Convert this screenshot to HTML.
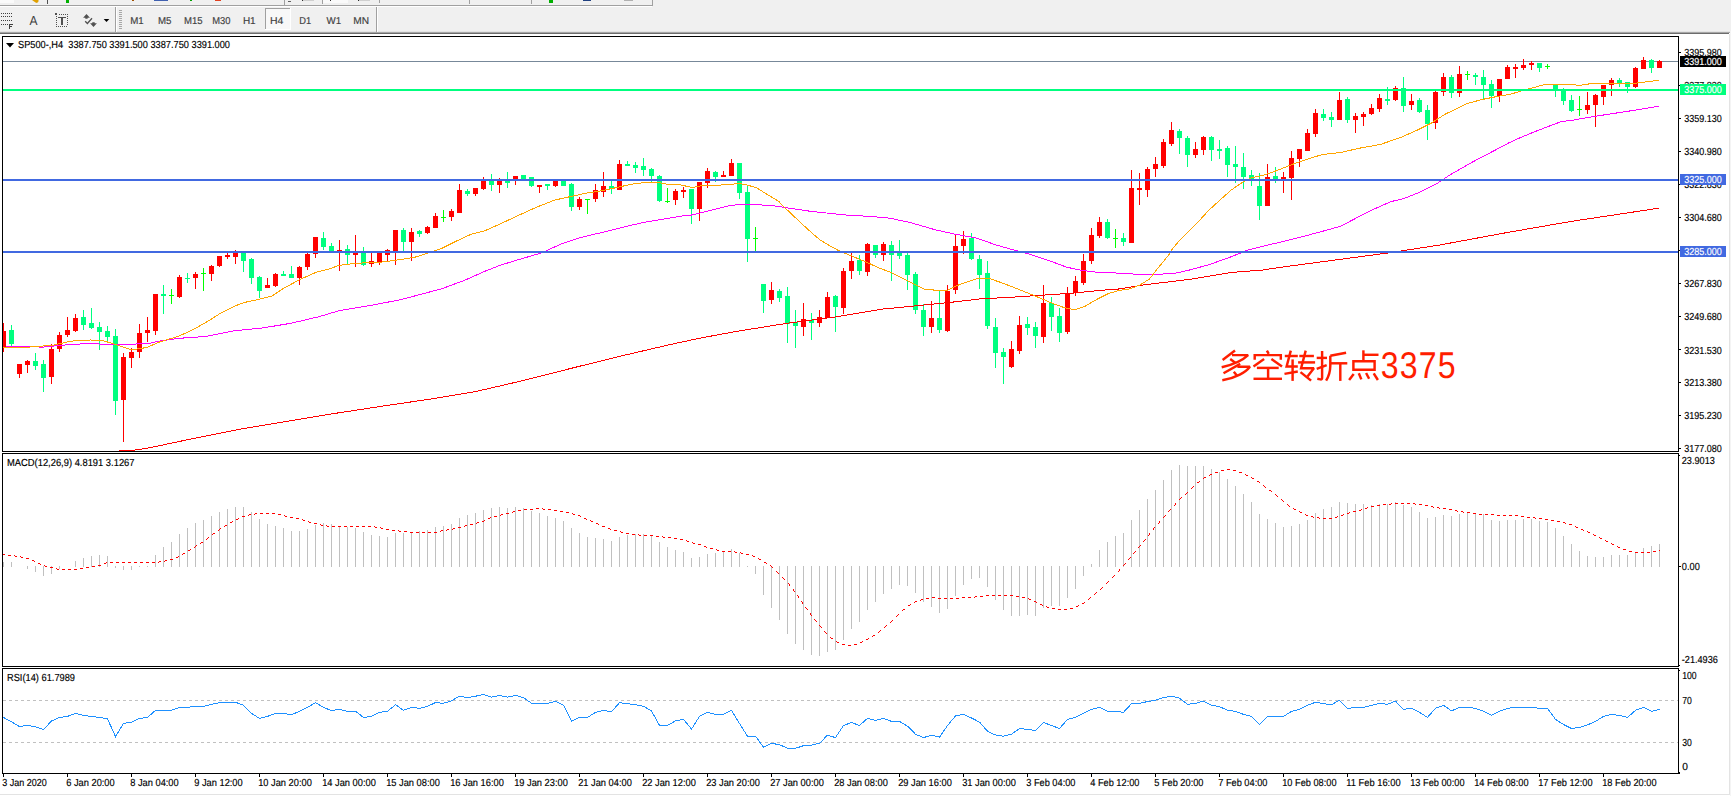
<!DOCTYPE html>
<html><head><meta charset="utf-8"><title>SP500 H4</title>
<style>
html,body{margin:0;padding:0;background:#fff;overflow:hidden}
body{width:1731px;height:796px}
svg{display:block;font-family:"Liberation Sans",sans-serif}
text{font-family:"Liberation Sans",sans-serif;text-rendering:geometricPrecision}
</style></head><body>
<svg width="1731" height="796" viewBox="0 0 1731 796">
<rect x="0" y="0" width="1731" height="796" fill="#ffffff"/>
<rect x="0" y="0" width="1731" height="31" fill="#f0f0f0"/>
<rect x="0" y="31" width="1730" height="1" fill="#e4e4e4"/>
<rect x="0" y="32" width="1730" height="1" fill="#a6a6a6"/>
<rect x="0" y="33" width="1729" height="1" fill="#6c6c6c"/>
<rect x="1730" y="31" width="1" height="765" fill="#f4f4f4"/>
<rect x="1729" y="34" width="1" height="761" fill="#e3e3e3"/>
<rect x="0" y="794" width="1730" height="1" fill="#e3e3e3"/>
<rect x="0" y="5" width="652" height="1" fill="#a0a0a0"/>
<rect x="0" y="6" width="652" height="1" fill="#ffffff"/>
<rect x="652" y="0" width="1" height="6" fill="#a0a0a0"/>
<rect x="0" y="0" width="14" height="3" fill="#fafafa"/>
<path d="M32 0 H38.5 V1.5 L37 3 L35.5 2.6 Z" fill="#e0a000"/>
<rect x="47" y="0" width="1" height="4" fill="#505050"/>
<rect x="66" y="0" width="3" height="3" fill="#00b000"/>
<rect x="132" y="0" width="2" height="1" fill="#a05000"/>
<rect x="154" y="0" width="14" height="1" fill="#4060b0"/>
<rect x="190" y="0" width="2" height="1" fill="#00a000"/>
<rect x="215" y="0" width="6" height="1" fill="#e04020"/>
<rect x="284" y="0" width="1" height="5" fill="#a0a0a0"/>
<rect x="288" y="1" width="3" height="1" fill="#606060"/>
<rect x="302" y="0" width="1" height="1" fill="#303030"/>
<rect x="303" y="0" width="11" height="1" fill="#cfcfcf"/>
<rect x="358" y="0" width="1" height="1" fill="#303030"/>
<rect x="359" y="0" width="11" height="1" fill="#cfcfcf"/>
<rect x="322" y="0" width="26" height="3" fill="#fafafa"/>
<rect x="322" y="0" width="1" height="4" fill="#a0a0a0"/>
<rect x="379" y="0" width="1" height="3" fill="#a0a0a0"/>
<rect x="330" y="0" width="1" height="1" fill="#303030"/>
<rect x="469" y="0" width="1" height="4" fill="#a0a0a0"/>
<rect x="531" y="0" width="1" height="4" fill="#a0a0a0"/>
<rect x="549" y="0" width="4" height="3" fill="#00b000"/>
<rect x="583" y="0" width="8" height="1" fill="#204080"/>
<rect x="624" y="0" width="9" height="1" fill="#b0b0b0"/>
<rect x="1" y="13" width="1" height="1" fill="#404040"/>
<rect x="3" y="13" width="1" height="1" fill="#404040"/>
<rect x="5" y="13" width="1" height="1" fill="#404040"/>
<rect x="7" y="13" width="1" height="1" fill="#404040"/>
<rect x="9" y="13" width="1" height="1" fill="#404040"/>
<rect x="11" y="13" width="1" height="1" fill="#404040"/>
<rect x="1" y="16" width="1" height="1" fill="#404040"/>
<rect x="3" y="16" width="1" height="1" fill="#404040"/>
<rect x="5" y="16" width="1" height="1" fill="#404040"/>
<rect x="7" y="16" width="1" height="1" fill="#404040"/>
<rect x="9" y="16" width="1" height="1" fill="#404040"/>
<rect x="11" y="16" width="1" height="1" fill="#404040"/>
<rect x="1" y="20" width="1" height="1" fill="#404040"/>
<rect x="3" y="20" width="1" height="1" fill="#404040"/>
<rect x="5" y="20" width="1" height="1" fill="#404040"/>
<rect x="7" y="20" width="1" height="1" fill="#404040"/>
<rect x="9" y="20" width="1" height="1" fill="#404040"/>
<rect x="11" y="20" width="1" height="1" fill="#404040"/>
<rect x="1" y="24" width="1" height="1" fill="#404040"/>
<rect x="3" y="24" width="1" height="1" fill="#404040"/>
<rect x="5" y="24" width="1" height="1" fill="#404040"/>
<rect x="7" y="24" width="1" height="1" fill="#404040"/>
<rect x="9" y="24" width="1" height="5" fill="#404040"/>
<rect x="9" y="24" width="4" height="1" fill="#404040"/>
<rect x="9" y="26" width="3" height="1" fill="#404040"/>
<text x="29.6" y="25" font-size="13" fill="#404040" textLength="8" lengthAdjust="spacingAndGlyphs">A</text>
<rect x="55" y="13" width="2" height="2" fill="#505050"/>
<rect x="59" y="14" width="1" height="1" fill="#505050"/>
<rect x="61" y="14" width="1" height="1" fill="#505050"/>
<rect x="63" y="14" width="1" height="1" fill="#505050"/>
<rect x="65" y="14" width="1" height="1" fill="#505050"/>
<rect x="67" y="14" width="1" height="1" fill="#505050"/>
<rect x="56" y="26" width="1" height="1" fill="#505050"/>
<rect x="58" y="26" width="1" height="1" fill="#505050"/>
<rect x="60" y="26" width="1" height="1" fill="#505050"/>
<rect x="62" y="26" width="1" height="1" fill="#505050"/>
<rect x="64" y="26" width="1" height="1" fill="#505050"/>
<rect x="66" y="26" width="1" height="1" fill="#505050"/>
<rect x="56" y="16" width="1" height="1" fill="#505050"/>
<rect x="56" y="18" width="1" height="1" fill="#505050"/>
<rect x="56" y="20" width="1" height="1" fill="#505050"/>
<rect x="56" y="22" width="1" height="1" fill="#505050"/>
<rect x="56" y="24" width="1" height="1" fill="#505050"/>
<rect x="67" y="16" width="1" height="1" fill="#505050"/>
<rect x="67" y="18" width="1" height="1" fill="#505050"/>
<rect x="67" y="20" width="1" height="1" fill="#505050"/>
<rect x="67" y="22" width="1" height="1" fill="#505050"/>
<rect x="67" y="24" width="1" height="1" fill="#505050"/>
<rect x="58" y="17" width="8" height="1" fill="#505050"/>
<rect x="61" y="18" width="2" height="7" fill="#505050"/>
<path d="M86.5 14 L89.9 17.8 H87.6 V18.7 H85.3 V17.8 H83.1 Z M93.5 26.9 L96.9 23.2 H94.7 V22.2 H92.3 V23.2 H90.1 Z" fill="#505050"/>
<path d="M85.2 21.2 L87.4 23.5 L92 18.2" fill="none" stroke="#505050" stroke-width="1.3"/>
<path d="M103.7 18.9 h5.6 l-2.8 3.2 z" fill="#000"/>
<rect x="115" y="7" width="1" height="25" fill="#a0a0a0"/>
<rect x="116" y="7" width="1" height="25" fill="#ffffff"/>
<rect x="119" y="10" width="3" height="1" fill="#a8a8a8"/>
<rect x="119" y="12" width="3" height="1" fill="#a8a8a8"/>
<rect x="119" y="14" width="3" height="1" fill="#a8a8a8"/>
<rect x="119" y="16" width="3" height="1" fill="#a8a8a8"/>
<rect x="119" y="18" width="3" height="1" fill="#a8a8a8"/>
<rect x="119" y="20" width="3" height="1" fill="#a8a8a8"/>
<rect x="119" y="22" width="3" height="1" fill="#a8a8a8"/>
<rect x="119" y="24" width="3" height="1" fill="#a8a8a8"/>
<rect x="119" y="26" width="3" height="1" fill="#a8a8a8"/>
<rect x="119" y="28" width="3" height="1" fill="#a8a8a8"/>
<rect x="265" y="8" width="26" height="22" fill="#f8f8f8"/>
<rect x="265" y="8" width="25" height="1" fill="#a0a0a0"/>
<rect x="265" y="8" width="1" height="22" fill="#a0a0a0"/>
<rect x="290" y="8" width="1" height="22" fill="#ffffff"/>
<rect x="265" y="29" width="26" height="1" fill="#ffffff"/>
<text x="130.2" y="24" font-size="10" fill="#404040" textLength="13.5" lengthAdjust="spacingAndGlyphs" stroke="#404040" stroke-width="0.16">M1</text>
<text x="157.9" y="24" font-size="10" fill="#404040" textLength="13.5" lengthAdjust="spacingAndGlyphs" stroke="#404040" stroke-width="0.16">M5</text>
<text x="184" y="24" font-size="10" fill="#404040" textLength="18.6" lengthAdjust="spacingAndGlyphs" stroke="#404040" stroke-width="0.16">M15</text>
<text x="212.2" y="24" font-size="10" fill="#404040" textLength="18.2" lengthAdjust="spacingAndGlyphs" stroke="#404040" stroke-width="0.16">M30</text>
<text x="242.9" y="24" font-size="10" fill="#404040" textLength="12.8" lengthAdjust="spacingAndGlyphs" stroke="#404040" stroke-width="0.16">H1</text>
<text x="270" y="24" font-size="10" fill="#404040" textLength="13.4" lengthAdjust="spacingAndGlyphs" stroke="#404040" stroke-width="0.16">H4</text>
<text x="299.3" y="24" font-size="10" fill="#404040" textLength="11.9" lengthAdjust="spacingAndGlyphs" stroke="#404040" stroke-width="0.16">D1</text>
<text x="326.6" y="24" font-size="10" fill="#404040" textLength="14.6" lengthAdjust="spacingAndGlyphs" stroke="#404040" stroke-width="0.16">W1</text>
<text x="353.2" y="24" font-size="10" fill="#404040" textLength="15.8" lengthAdjust="spacingAndGlyphs" stroke="#404040" stroke-width="0.16">MN</text>
<rect x="376" y="7" width="1" height="25" fill="#a0a0a0"/>
<rect x="377" y="7" width="1" height="25" fill="#ffffff"/>
<rect x="2" y="36" width="1677" height="1" fill="#000000"/>
<rect x="2" y="36" width="1" height="738" fill="#000000"/>
<rect x="1678" y="36" width="1" height="738" fill="#000000"/>
<rect x="2" y="451" width="1677" height="1" fill="#000000"/>
<rect x="2" y="453" width="1677" height="1" fill="#000000"/>
<rect x="2" y="666" width="1677" height="1" fill="#000000"/>
<rect x="2" y="668" width="1677" height="1" fill="#000000"/>
<rect x="2" y="773" width="1678" height="1" fill="#000000"/>
<rect x="2" y="452" width="1677" height="1" fill="#ffffff"/>
<rect x="2" y="667" width="1677" height="1" fill="#ffffff"/>
<defs><clipPath id="cm"><rect x="3" y="37" width="1675" height="414"/></clipPath></defs>
<g clip-path="url(#cm)" shape-rendering="crispEdges">
<rect x="3" y="61" width="1675" height="1" fill="#778899"/>
<rect x="3" y="323" width="1" height="29" fill="#ff0000"/>
<rect x="1" y="331" width="5" height="16" fill="#ff0000"/>
<rect x="11" y="325" width="1" height="21" fill="#00ff7f"/>
<rect x="9" y="330" width="5" height="14" fill="#00ff7f"/>
<rect x="19" y="364" width="1" height="14" fill="#ff0000"/>
<rect x="17" y="364" width="5" height="10" fill="#ff0000"/>
<rect x="27" y="360" width="1" height="13" fill="#ff0000"/>
<rect x="25" y="361" width="5" height="4" fill="#ff0000"/>
<rect x="35" y="353" width="1" height="17" fill="#00ff7f"/>
<rect x="33" y="361" width="5" height="5" fill="#00ff7f"/>
<rect x="43" y="360" width="1" height="32" fill="#00ff7f"/>
<rect x="41" y="364" width="5" height="14" fill="#00ff7f"/>
<rect x="51" y="344" width="1" height="40" fill="#ff0000"/>
<rect x="49" y="349" width="5" height="28" fill="#ff0000"/>
<rect x="59" y="332" width="1" height="20" fill="#ff0000"/>
<rect x="57" y="335" width="5" height="14" fill="#ff0000"/>
<rect x="67" y="317" width="1" height="20" fill="#ff0000"/>
<rect x="65" y="330" width="5" height="5" fill="#ff0000"/>
<rect x="75" y="314" width="1" height="18" fill="#ff0000"/>
<rect x="73" y="318" width="5" height="13" fill="#ff0000"/>
<rect x="83" y="310" width="1" height="20" fill="#00ff7f"/>
<rect x="81" y="317" width="5" height="8" fill="#00ff7f"/>
<rect x="91" y="308" width="1" height="21" fill="#00ff7f"/>
<rect x="89" y="323" width="5" height="5" fill="#00ff7f"/>
<rect x="99" y="322" width="1" height="28" fill="#00ff7f"/>
<rect x="97" y="327" width="5" height="5" fill="#00ff7f"/>
<rect x="107" y="326" width="1" height="17" fill="#00ff7f"/>
<rect x="105" y="331" width="5" height="6" fill="#00ff7f"/>
<rect x="115" y="329" width="1" height="86" fill="#00ff7f"/>
<rect x="113" y="336" width="5" height="65" fill="#00ff7f"/>
<rect x="123" y="353" width="1" height="89" fill="#ff0000"/>
<rect x="121" y="357" width="5" height="43" fill="#ff0000"/>
<rect x="131" y="348" width="1" height="20" fill="#ff0000"/>
<rect x="129" y="352" width="5" height="6" fill="#ff0000"/>
<rect x="139" y="324" width="1" height="34" fill="#ff0000"/>
<rect x="137" y="333" width="5" height="19" fill="#ff0000"/>
<rect x="147" y="317" width="1" height="25" fill="#ff0000"/>
<rect x="145" y="330" width="5" height="3" fill="#ff0000"/>
<rect x="155" y="294" width="1" height="41" fill="#ff0000"/>
<rect x="153" y="294" width="5" height="37" fill="#ff0000"/>
<rect x="163" y="285" width="1" height="29" fill="#00ff7f"/>
<rect x="161" y="294" width="5" height="2" fill="#00ff7f"/>
<rect x="171" y="289" width="1" height="15" fill="#00ff00"/>
<rect x="169" y="295" width="5" height="1" fill="#00ff00"/>
<rect x="179" y="275" width="1" height="23" fill="#ff0000"/>
<rect x="177" y="277" width="5" height="20" fill="#ff0000"/>
<rect x="187" y="273" width="1" height="10" fill="#00ff7f"/>
<rect x="185" y="278" width="5" height="1" fill="#00ff7f"/>
<rect x="195" y="272" width="1" height="17" fill="#ff0000"/>
<rect x="193" y="274" width="5" height="4" fill="#ff0000"/>
<rect x="203" y="268" width="1" height="23" fill="#00ff00"/>
<rect x="201" y="273" width="5" height="1" fill="#00ff00"/>
<rect x="211" y="265" width="1" height="16" fill="#ff0000"/>
<rect x="209" y="266" width="5" height="8" fill="#ff0000"/>
<rect x="219" y="256" width="1" height="11" fill="#ff0000"/>
<rect x="217" y="256" width="5" height="10" fill="#ff0000"/>
<rect x="227" y="253" width="1" height="6" fill="#ff0000"/>
<rect x="225" y="255" width="5" height="2" fill="#ff0000"/>
<rect x="235" y="250" width="1" height="14" fill="#ff0000"/>
<rect x="233" y="252" width="5" height="5" fill="#ff0000"/>
<rect x="243" y="252" width="1" height="20" fill="#00ff7f"/>
<rect x="241" y="252" width="5" height="9" fill="#00ff7f"/>
<rect x="251" y="258" width="1" height="26" fill="#00ff7f"/>
<rect x="249" y="259" width="5" height="19" fill="#00ff7f"/>
<rect x="259" y="276" width="1" height="22" fill="#00ff7f"/>
<rect x="257" y="277" width="5" height="14" fill="#00ff7f"/>
<rect x="267" y="278" width="1" height="10" fill="#ff0000"/>
<rect x="265" y="285" width="5" height="3" fill="#ff0000"/>
<rect x="275" y="273" width="1" height="14" fill="#ff0000"/>
<rect x="273" y="274" width="5" height="12" fill="#ff0000"/>
<rect x="283" y="271" width="1" height="5" fill="#00ff7f"/>
<rect x="281" y="274" width="5" height="2" fill="#00ff7f"/>
<rect x="291" y="266" width="1" height="12" fill="#00ff7f"/>
<rect x="289" y="274" width="5" height="4" fill="#00ff7f"/>
<rect x="299" y="266" width="1" height="19" fill="#ff0000"/>
<rect x="297" y="267" width="5" height="11" fill="#ff0000"/>
<rect x="307" y="253" width="1" height="17" fill="#ff0000"/>
<rect x="305" y="254" width="5" height="13" fill="#ff0000"/>
<rect x="315" y="237" width="1" height="21" fill="#ff0000"/>
<rect x="313" y="237" width="5" height="17" fill="#ff0000"/>
<rect x="323" y="232" width="1" height="18" fill="#00ff7f"/>
<rect x="321" y="238" width="5" height="9" fill="#00ff7f"/>
<rect x="331" y="243" width="1" height="8" fill="#00ff7f"/>
<rect x="329" y="246" width="5" height="5" fill="#00ff7f"/>
<rect x="339" y="240" width="1" height="31" fill="#ff0000"/>
<rect x="337" y="250" width="5" height="2" fill="#ff0000"/>
<rect x="347" y="245" width="1" height="19" fill="#00ff7f"/>
<rect x="345" y="249" width="5" height="6" fill="#00ff7f"/>
<rect x="355" y="235" width="1" height="32" fill="#ff0000"/>
<rect x="353" y="252" width="5" height="3" fill="#ff0000"/>
<rect x="363" y="247" width="1" height="19" fill="#00ff7f"/>
<rect x="361" y="252" width="5" height="13" fill="#00ff7f"/>
<rect x="371" y="252" width="1" height="15" fill="#ff0000"/>
<rect x="369" y="261" width="5" height="3" fill="#ff0000"/>
<rect x="379" y="252" width="1" height="13" fill="#ff0000"/>
<rect x="377" y="252" width="5" height="10" fill="#ff0000"/>
<rect x="387" y="249" width="1" height="12" fill="#ff0000"/>
<rect x="385" y="250" width="5" height="5" fill="#ff0000"/>
<rect x="395" y="230" width="1" height="35" fill="#ff0000"/>
<rect x="393" y="230" width="5" height="21" fill="#ff0000"/>
<rect x="403" y="228" width="1" height="23" fill="#00ff7f"/>
<rect x="401" y="230" width="5" height="12" fill="#00ff7f"/>
<rect x="411" y="228" width="1" height="33" fill="#ff0000"/>
<rect x="409" y="232" width="5" height="10" fill="#ff0000"/>
<rect x="419" y="230" width="1" height="7" fill="#00ff7f"/>
<rect x="417" y="231" width="5" height="3" fill="#00ff7f"/>
<rect x="427" y="226" width="1" height="8" fill="#ff0000"/>
<rect x="425" y="227" width="5" height="6" fill="#ff0000"/>
<rect x="435" y="213" width="1" height="15" fill="#ff0000"/>
<rect x="433" y="216" width="5" height="12" fill="#ff0000"/>
<rect x="443" y="210" width="1" height="12" fill="#00ff00"/>
<rect x="441" y="217" width="5" height="1" fill="#00ff00"/>
<rect x="451" y="209" width="1" height="12" fill="#ff0000"/>
<rect x="449" y="211" width="5" height="6" fill="#ff0000"/>
<rect x="459" y="184" width="1" height="29" fill="#ff0000"/>
<rect x="457" y="190" width="5" height="23" fill="#ff0000"/>
<rect x="467" y="189" width="1" height="7" fill="#00ff7f"/>
<rect x="465" y="191" width="5" height="3" fill="#00ff7f"/>
<rect x="475" y="188" width="1" height="8" fill="#ff0000"/>
<rect x="473" y="188" width="5" height="6" fill="#ff0000"/>
<rect x="483" y="177" width="1" height="13" fill="#ff0000"/>
<rect x="481" y="181" width="5" height="8" fill="#ff0000"/>
<rect x="491" y="174" width="1" height="17" fill="#00ff7f"/>
<rect x="489" y="181" width="5" height="4" fill="#00ff7f"/>
<rect x="499" y="178" width="1" height="15" fill="#ff0000"/>
<rect x="497" y="181" width="5" height="4" fill="#ff0000"/>
<rect x="507" y="172" width="1" height="16" fill="#00ff7f"/>
<rect x="505" y="180" width="5" height="3" fill="#00ff7f"/>
<rect x="515" y="176" width="1" height="9" fill="#ff0000"/>
<rect x="513" y="176" width="5" height="4" fill="#ff0000"/>
<rect x="523" y="175" width="1" height="5" fill="#00ff7f"/>
<rect x="521" y="175" width="5" height="5" fill="#00ff7f"/>
<rect x="531" y="177" width="1" height="10" fill="#00ff7f"/>
<rect x="529" y="177" width="5" height="9" fill="#00ff7f"/>
<rect x="539" y="185" width="1" height="8" fill="#ff0000"/>
<rect x="537" y="185" width="5" height="2" fill="#ff0000"/>
<rect x="547" y="184" width="1" height="6" fill="#00ff7f"/>
<rect x="545" y="184" width="5" height="2" fill="#00ff7f"/>
<rect x="555" y="181" width="1" height="6" fill="#ff0000"/>
<rect x="553" y="181" width="5" height="5" fill="#ff0000"/>
<rect x="563" y="181" width="1" height="5" fill="#00ff7f"/>
<rect x="561" y="181" width="5" height="5" fill="#00ff7f"/>
<rect x="571" y="183" width="1" height="28" fill="#00ff7f"/>
<rect x="569" y="184" width="5" height="23" fill="#00ff7f"/>
<rect x="579" y="197" width="1" height="13" fill="#ff0000"/>
<rect x="577" y="199" width="5" height="8" fill="#ff0000"/>
<rect x="587" y="199" width="1" height="15" fill="#00ff00"/>
<rect x="585" y="199" width="5" height="1" fill="#00ff00"/>
<rect x="595" y="184" width="1" height="18" fill="#ff0000"/>
<rect x="593" y="190" width="5" height="9" fill="#ff0000"/>
<rect x="603" y="172" width="1" height="25" fill="#ff0000"/>
<rect x="601" y="186" width="5" height="6" fill="#ff0000"/>
<rect x="611" y="181" width="1" height="13" fill="#00ff7f"/>
<rect x="609" y="186" width="5" height="3" fill="#00ff7f"/>
<rect x="619" y="160" width="1" height="30" fill="#ff0000"/>
<rect x="617" y="164" width="5" height="26" fill="#ff0000"/>
<rect x="627" y="161" width="1" height="5" fill="#00ff7f"/>
<rect x="625" y="164" width="5" height="2" fill="#00ff7f"/>
<rect x="635" y="162" width="1" height="11" fill="#00ff7f"/>
<rect x="633" y="165" width="5" height="3" fill="#00ff7f"/>
<rect x="643" y="158" width="1" height="18" fill="#00ff7f"/>
<rect x="641" y="166" width="5" height="4" fill="#00ff7f"/>
<rect x="651" y="168" width="1" height="14" fill="#00ff7f"/>
<rect x="649" y="169" width="5" height="7" fill="#00ff7f"/>
<rect x="659" y="175" width="1" height="27" fill="#00ff7f"/>
<rect x="657" y="176" width="5" height="25" fill="#00ff7f"/>
<rect x="667" y="188" width="1" height="15" fill="#00ff00"/>
<rect x="665" y="201" width="5" height="1" fill="#00ff00"/>
<rect x="675" y="189" width="1" height="16" fill="#ff0000"/>
<rect x="673" y="191" width="5" height="9" fill="#ff0000"/>
<rect x="683" y="187" width="1" height="11" fill="#ff0000"/>
<rect x="681" y="190" width="5" height="2" fill="#ff0000"/>
<rect x="691" y="189" width="1" height="35" fill="#00ff7f"/>
<rect x="689" y="189" width="5" height="20" fill="#00ff7f"/>
<rect x="699" y="182" width="1" height="39" fill="#ff0000"/>
<rect x="697" y="182" width="5" height="27" fill="#ff0000"/>
<rect x="707" y="168" width="1" height="20" fill="#ff0000"/>
<rect x="705" y="171" width="5" height="12" fill="#ff0000"/>
<rect x="715" y="171" width="1" height="11" fill="#00ff7f"/>
<rect x="713" y="172" width="5" height="5" fill="#00ff7f"/>
<rect x="723" y="171" width="1" height="6" fill="#ff0000"/>
<rect x="721" y="175" width="5" height="2" fill="#ff0000"/>
<rect x="731" y="159" width="1" height="17" fill="#ff0000"/>
<rect x="729" y="163" width="5" height="13" fill="#ff0000"/>
<rect x="739" y="163" width="1" height="36" fill="#00ff7f"/>
<rect x="737" y="163" width="5" height="30" fill="#00ff7f"/>
<rect x="747" y="186" width="1" height="76" fill="#00ff7f"/>
<rect x="745" y="192" width="5" height="47" fill="#00ff7f"/>
<rect x="755" y="227" width="1" height="24" fill="#00ff00"/>
<rect x="753" y="238" width="5" height="1" fill="#00ff00"/>
<rect x="763" y="284" width="1" height="29" fill="#00ff7f"/>
<rect x="761" y="284" width="5" height="17" fill="#00ff7f"/>
<rect x="771" y="282" width="1" height="22" fill="#ff0000"/>
<rect x="769" y="290" width="5" height="10" fill="#ff0000"/>
<rect x="779" y="289" width="1" height="13" fill="#00ff7f"/>
<rect x="777" y="291" width="5" height="7" fill="#00ff7f"/>
<rect x="787" y="287" width="1" height="56" fill="#00ff7f"/>
<rect x="785" y="296" width="5" height="28" fill="#00ff7f"/>
<rect x="795" y="310" width="1" height="38" fill="#00ff7f"/>
<rect x="793" y="322" width="5" height="4" fill="#00ff7f"/>
<rect x="803" y="303" width="1" height="33" fill="#ff0000"/>
<rect x="801" y="319" width="5" height="8" fill="#ff0000"/>
<rect x="811" y="313" width="1" height="27" fill="#00ff7f"/>
<rect x="809" y="320" width="5" height="3" fill="#00ff7f"/>
<rect x="819" y="310" width="1" height="17" fill="#ff0000"/>
<rect x="817" y="317" width="5" height="6" fill="#ff0000"/>
<rect x="827" y="292" width="1" height="26" fill="#ff0000"/>
<rect x="825" y="297" width="5" height="21" fill="#ff0000"/>
<rect x="835" y="295" width="1" height="37" fill="#00ff7f"/>
<rect x="833" y="296" width="5" height="11" fill="#00ff7f"/>
<rect x="843" y="268" width="1" height="46" fill="#ff0000"/>
<rect x="841" y="271" width="5" height="37" fill="#ff0000"/>
<rect x="851" y="253" width="1" height="26" fill="#ff0000"/>
<rect x="849" y="261" width="5" height="10" fill="#ff0000"/>
<rect x="859" y="255" width="1" height="20" fill="#00ff7f"/>
<rect x="857" y="260" width="5" height="11" fill="#00ff7f"/>
<rect x="867" y="243" width="1" height="33" fill="#ff0000"/>
<rect x="865" y="244" width="5" height="28" fill="#ff0000"/>
<rect x="875" y="245" width="1" height="13" fill="#00ff7f"/>
<rect x="873" y="245" width="5" height="10" fill="#00ff7f"/>
<rect x="883" y="242" width="1" height="19" fill="#ff0000"/>
<rect x="881" y="244" width="5" height="11" fill="#ff0000"/>
<rect x="891" y="241" width="1" height="40" fill="#00ff7f"/>
<rect x="889" y="245" width="5" height="10" fill="#00ff7f"/>
<rect x="899" y="240" width="1" height="19" fill="#00ff7f"/>
<rect x="897" y="253" width="5" height="3" fill="#00ff7f"/>
<rect x="907" y="253" width="1" height="37" fill="#00ff7f"/>
<rect x="905" y="255" width="5" height="20" fill="#00ff7f"/>
<rect x="915" y="272" width="1" height="42" fill="#00ff7f"/>
<rect x="913" y="274" width="5" height="36" fill="#00ff7f"/>
<rect x="923" y="304" width="1" height="32" fill="#00ff7f"/>
<rect x="921" y="310" width="5" height="17" fill="#00ff7f"/>
<rect x="931" y="301" width="1" height="32" fill="#ff0000"/>
<rect x="929" y="318" width="5" height="9" fill="#ff0000"/>
<rect x="939" y="290" width="1" height="43" fill="#00ff7f"/>
<rect x="937" y="318" width="5" height="12" fill="#00ff7f"/>
<rect x="947" y="285" width="1" height="47" fill="#ff0000"/>
<rect x="945" y="291" width="5" height="40" fill="#ff0000"/>
<rect x="955" y="234" width="1" height="60" fill="#ff0000"/>
<rect x="953" y="246" width="5" height="44" fill="#ff0000"/>
<rect x="963" y="231" width="1" height="23" fill="#ff0000"/>
<rect x="961" y="239" width="5" height="7" fill="#ff0000"/>
<rect x="971" y="233" width="1" height="27" fill="#00ff7f"/>
<rect x="969" y="238" width="5" height="21" fill="#00ff7f"/>
<rect x="979" y="255" width="1" height="34" fill="#00ff7f"/>
<rect x="977" y="259" width="5" height="16" fill="#00ff7f"/>
<rect x="987" y="261" width="1" height="68" fill="#00ff7f"/>
<rect x="985" y="273" width="5" height="53" fill="#00ff7f"/>
<rect x="995" y="318" width="1" height="50" fill="#00ff7f"/>
<rect x="993" y="327" width="5" height="26" fill="#00ff7f"/>
<rect x="1003" y="348" width="1" height="36" fill="#00ff7f"/>
<rect x="1001" y="352" width="5" height="5" fill="#00ff7f"/>
<rect x="1011" y="341" width="1" height="27" fill="#ff0000"/>
<rect x="1009" y="349" width="5" height="18" fill="#ff0000"/>
<rect x="1019" y="316" width="1" height="38" fill="#ff0000"/>
<rect x="1017" y="325" width="5" height="26" fill="#ff0000"/>
<rect x="1027" y="317" width="1" height="18" fill="#00ff7f"/>
<rect x="1025" y="324" width="5" height="4" fill="#00ff7f"/>
<rect x="1035" y="322" width="1" height="26" fill="#00ff7f"/>
<rect x="1033" y="327" width="5" height="9" fill="#00ff7f"/>
<rect x="1043" y="285" width="1" height="58" fill="#ff0000"/>
<rect x="1041" y="303" width="5" height="34" fill="#ff0000"/>
<rect x="1051" y="297" width="1" height="34" fill="#00ff7f"/>
<rect x="1049" y="303" width="5" height="14" fill="#00ff7f"/>
<rect x="1059" y="308" width="1" height="34" fill="#00ff7f"/>
<rect x="1057" y="316" width="5" height="17" fill="#00ff7f"/>
<rect x="1067" y="287" width="1" height="47" fill="#ff0000"/>
<rect x="1065" y="293" width="5" height="39" fill="#ff0000"/>
<rect x="1075" y="276" width="1" height="20" fill="#ff0000"/>
<rect x="1073" y="281" width="5" height="12" fill="#ff0000"/>
<rect x="1083" y="254" width="1" height="31" fill="#ff0000"/>
<rect x="1081" y="261" width="5" height="22" fill="#ff0000"/>
<rect x="1091" y="228" width="1" height="36" fill="#ff0000"/>
<rect x="1089" y="235" width="5" height="26" fill="#ff0000"/>
<rect x="1099" y="217" width="1" height="21" fill="#ff0000"/>
<rect x="1097" y="222" width="5" height="14" fill="#ff0000"/>
<rect x="1107" y="219" width="1" height="20" fill="#00ff7f"/>
<rect x="1105" y="222" width="5" height="16" fill="#00ff7f"/>
<rect x="1115" y="229" width="1" height="19" fill="#00ff00"/>
<rect x="1113" y="238" width="5" height="1" fill="#00ff00"/>
<rect x="1123" y="233" width="1" height="13" fill="#00ff7f"/>
<rect x="1121" y="238" width="5" height="4" fill="#00ff7f"/>
<rect x="1131" y="170" width="1" height="73" fill="#ff0000"/>
<rect x="1129" y="188" width="5" height="55" fill="#ff0000"/>
<rect x="1139" y="173" width="1" height="32" fill="#ff0000"/>
<rect x="1137" y="188" width="5" height="2" fill="#ff0000"/>
<rect x="1147" y="167" width="1" height="30" fill="#ff0000"/>
<rect x="1145" y="169" width="5" height="21" fill="#ff0000"/>
<rect x="1155" y="157" width="1" height="20" fill="#ff0000"/>
<rect x="1153" y="164" width="5" height="5" fill="#ff0000"/>
<rect x="1163" y="139" width="1" height="29" fill="#ff0000"/>
<rect x="1161" y="142" width="5" height="24" fill="#ff0000"/>
<rect x="1171" y="122" width="1" height="24" fill="#ff0000"/>
<rect x="1169" y="130" width="5" height="14" fill="#ff0000"/>
<rect x="1179" y="129" width="1" height="25" fill="#00ff7f"/>
<rect x="1177" y="131" width="5" height="7" fill="#00ff7f"/>
<rect x="1187" y="136" width="1" height="31" fill="#00ff7f"/>
<rect x="1185" y="138" width="5" height="17" fill="#00ff7f"/>
<rect x="1195" y="142" width="1" height="16" fill="#ff0000"/>
<rect x="1193" y="149" width="5" height="6" fill="#ff0000"/>
<rect x="1203" y="136" width="1" height="19" fill="#ff0000"/>
<rect x="1201" y="137" width="5" height="13" fill="#ff0000"/>
<rect x="1211" y="136" width="1" height="25" fill="#00ff7f"/>
<rect x="1209" y="137" width="5" height="13" fill="#00ff7f"/>
<rect x="1219" y="140" width="1" height="19" fill="#00ff7f"/>
<rect x="1217" y="149" width="5" height="2" fill="#00ff7f"/>
<rect x="1227" y="146" width="1" height="31" fill="#00ff7f"/>
<rect x="1225" y="148" width="5" height="17" fill="#00ff7f"/>
<rect x="1235" y="146" width="1" height="37" fill="#00ff7f"/>
<rect x="1233" y="164" width="5" height="3" fill="#00ff7f"/>
<rect x="1243" y="153" width="1" height="36" fill="#00ff7f"/>
<rect x="1241" y="167" width="5" height="10" fill="#00ff7f"/>
<rect x="1251" y="170" width="1" height="16" fill="#00ff7f"/>
<rect x="1249" y="175" width="5" height="4" fill="#00ff7f"/>
<rect x="1259" y="173" width="1" height="47" fill="#00ff7f"/>
<rect x="1257" y="186" width="5" height="20" fill="#00ff7f"/>
<rect x="1267" y="164" width="1" height="42" fill="#ff0000"/>
<rect x="1265" y="177" width="5" height="29" fill="#ff0000"/>
<rect x="1275" y="167" width="1" height="16" fill="#00ff7f"/>
<rect x="1273" y="176" width="5" height="3" fill="#00ff7f"/>
<rect x="1283" y="172" width="1" height="21" fill="#ff0000"/>
<rect x="1281" y="177" width="5" height="2" fill="#ff0000"/>
<rect x="1291" y="151" width="1" height="49" fill="#ff0000"/>
<rect x="1289" y="158" width="5" height="20" fill="#ff0000"/>
<rect x="1299" y="149" width="1" height="18" fill="#ff0000"/>
<rect x="1297" y="149" width="5" height="10" fill="#ff0000"/>
<rect x="1307" y="129" width="1" height="22" fill="#ff0000"/>
<rect x="1305" y="133" width="5" height="18" fill="#ff0000"/>
<rect x="1315" y="109" width="1" height="28" fill="#ff0000"/>
<rect x="1313" y="113" width="5" height="21" fill="#ff0000"/>
<rect x="1323" y="109" width="1" height="12" fill="#00ff7f"/>
<rect x="1321" y="114" width="5" height="4" fill="#00ff7f"/>
<rect x="1331" y="112" width="1" height="15" fill="#00ff7f"/>
<rect x="1329" y="117" width="5" height="3" fill="#00ff7f"/>
<rect x="1339" y="92" width="1" height="28" fill="#ff0000"/>
<rect x="1337" y="100" width="5" height="20" fill="#ff0000"/>
<rect x="1347" y="97" width="1" height="26" fill="#00ff7f"/>
<rect x="1345" y="99" width="5" height="21" fill="#00ff7f"/>
<rect x="1355" y="113" width="1" height="20" fill="#ff0000"/>
<rect x="1353" y="116" width="5" height="4" fill="#ff0000"/>
<rect x="1363" y="112" width="1" height="14" fill="#ff0000"/>
<rect x="1361" y="114" width="5" height="3" fill="#ff0000"/>
<rect x="1371" y="104" width="1" height="11" fill="#ff0000"/>
<rect x="1369" y="108" width="5" height="6" fill="#ff0000"/>
<rect x="1379" y="94" width="1" height="18" fill="#ff0000"/>
<rect x="1377" y="98" width="5" height="11" fill="#ff0000"/>
<rect x="1387" y="87" width="1" height="18" fill="#00ff7f"/>
<rect x="1385" y="99" width="5" height="2" fill="#00ff7f"/>
<rect x="1395" y="86" width="1" height="15" fill="#ff0000"/>
<rect x="1393" y="88" width="5" height="12" fill="#ff0000"/>
<rect x="1403" y="77" width="1" height="35" fill="#00ff7f"/>
<rect x="1401" y="88" width="5" height="18" fill="#00ff7f"/>
<rect x="1411" y="94" width="1" height="16" fill="#ff0000"/>
<rect x="1409" y="101" width="5" height="4" fill="#ff0000"/>
<rect x="1419" y="98" width="1" height="15" fill="#00ff7f"/>
<rect x="1417" y="100" width="5" height="12" fill="#00ff7f"/>
<rect x="1427" y="105" width="1" height="35" fill="#00ff7f"/>
<rect x="1425" y="110" width="5" height="14" fill="#00ff7f"/>
<rect x="1435" y="91" width="1" height="38" fill="#ff0000"/>
<rect x="1433" y="92" width="5" height="31" fill="#ff0000"/>
<rect x="1443" y="73" width="1" height="23" fill="#ff0000"/>
<rect x="1441" y="77" width="5" height="15" fill="#ff0000"/>
<rect x="1451" y="75" width="1" height="23" fill="#00ff7f"/>
<rect x="1449" y="77" width="5" height="16" fill="#00ff7f"/>
<rect x="1459" y="66" width="1" height="31" fill="#ff0000"/>
<rect x="1457" y="74" width="5" height="19" fill="#ff0000"/>
<rect x="1467" y="71" width="1" height="9" fill="#00ff00"/>
<rect x="1465" y="74" width="5" height="1" fill="#00ff00"/>
<rect x="1475" y="73" width="1" height="12" fill="#00ff7f"/>
<rect x="1473" y="75" width="5" height="2" fill="#00ff7f"/>
<rect x="1483" y="70" width="1" height="29" fill="#00ff7f"/>
<rect x="1481" y="77" width="5" height="8" fill="#00ff7f"/>
<rect x="1491" y="80" width="1" height="28" fill="#00ff7f"/>
<rect x="1489" y="84" width="5" height="12" fill="#00ff7f"/>
<rect x="1499" y="79" width="1" height="23" fill="#ff0000"/>
<rect x="1497" y="79" width="5" height="17" fill="#ff0000"/>
<rect x="1507" y="65" width="1" height="14" fill="#ff0000"/>
<rect x="1505" y="67" width="5" height="12" fill="#ff0000"/>
<rect x="1515" y="64" width="1" height="14" fill="#ff0000"/>
<rect x="1513" y="67" width="5" height="2" fill="#ff0000"/>
<rect x="1523" y="59" width="1" height="11" fill="#ff0000"/>
<rect x="1521" y="65" width="5" height="3" fill="#ff0000"/>
<rect x="1531" y="61" width="1" height="9" fill="#ff0000"/>
<rect x="1529" y="63" width="5" height="2" fill="#ff0000"/>
<rect x="1539" y="63" width="1" height="9" fill="#00ff7f"/>
<rect x="1537" y="63" width="5" height="5" fill="#00ff7f"/>
<rect x="1547" y="64" width="1" height="5" fill="#00ff00"/>
<rect x="1545" y="66" width="5" height="1" fill="#00ff00"/>
<rect x="1555" y="84" width="1" height="13" fill="#00ff7f"/>
<rect x="1553" y="84" width="5" height="5" fill="#00ff7f"/>
<rect x="1563" y="88" width="1" height="17" fill="#00ff7f"/>
<rect x="1561" y="90" width="5" height="11" fill="#00ff7f"/>
<rect x="1571" y="95" width="1" height="17" fill="#00ff7f"/>
<rect x="1569" y="100" width="5" height="11" fill="#00ff7f"/>
<rect x="1579" y="96" width="1" height="20" fill="#00ff00"/>
<rect x="1577" y="109" width="5" height="1" fill="#00ff00"/>
<rect x="1587" y="92" width="1" height="22" fill="#ff0000"/>
<rect x="1585" y="105" width="5" height="5" fill="#ff0000"/>
<rect x="1595" y="94" width="1" height="33" fill="#ff0000"/>
<rect x="1593" y="95" width="5" height="10" fill="#ff0000"/>
<rect x="1603" y="85" width="1" height="20" fill="#ff0000"/>
<rect x="1601" y="85" width="5" height="12" fill="#ff0000"/>
<rect x="1611" y="78" width="1" height="18" fill="#ff0000"/>
<rect x="1609" y="80" width="5" height="5" fill="#ff0000"/>
<rect x="1619" y="78" width="1" height="9" fill="#00ff7f"/>
<rect x="1617" y="80" width="5" height="3" fill="#00ff7f"/>
<rect x="1627" y="82" width="1" height="11" fill="#00ff7f"/>
<rect x="1625" y="82" width="5" height="5" fill="#00ff7f"/>
<rect x="1635" y="67" width="1" height="21" fill="#ff0000"/>
<rect x="1633" y="68" width="5" height="19" fill="#ff0000"/>
<rect x="1643" y="57" width="1" height="12" fill="#ff0000"/>
<rect x="1641" y="60" width="5" height="9" fill="#ff0000"/>
<rect x="1651" y="59" width="1" height="14" fill="#00ff7f"/>
<rect x="1649" y="60" width="5" height="8" fill="#00ff7f"/>
<rect x="1659" y="60" width="1" height="8" fill="#ff0000"/>
<rect x="1657" y="61" width="5" height="7" fill="#ff0000"/>
</g>
<g clip-path="url(#cm)">
<polyline points="119,450.5 132,450.5 150,447.7 190,439.2 237.7,429.6 285.3,421.7 333,413.7 380.7,406.4 428.3,399.4 476,391.5 523.7,380.4 571.3,368.3 619,356.5 666.6,345.4 698.4,338.4 740,330.8 787.1,323.3 834.3,317.1 881.4,309.2 920,305.4 950.2,302.4 980.3,298.9 1010.5,297.3 1040.6,295.3 1070.8,293.3 1100.9,290.3 1120,288.9 1142.9,285 1192.3,279 1231.8,272.4 1262.9,270 1280,267.4 1340.5,259.3 1389.9,252.7 1439.3,245.1 1505.1,232.9 1571,221.4 1658.8,208.2" fill="none" stroke="#ff0000" stroke-width="1" shape-rendering="crispEdges"/>
<polyline points="2.8,347.1 18.9,346.6 43.4,347.1 62.2,345.2 84.8,343.7 113,344.3 132,344.3 150.8,343 158.9,341.2 177.7,338.4 206,336.5 234.3,330.8 262.5,328 290.8,323.3 319,316.7 339.8,310.5 370,305.5 399.2,300 418,295.1 442.5,288.5 465.1,280.1 484,271.6 501,265 518.9,259.5 541.5,252.9 562.2,243.5 579.2,237.8 601.8,232.5 622.5,227.4 643.3,222.4 664,219 681,216.1 690,215.4 708.9,210.7 727.7,206 739,204.5 756,204.5 774.8,206 793.7,208.8 812.5,211.6 831.4,213.5 850.2,215.4 869.1,216.3 889.8,218.2 910,222.5 936,230 956.2,234.4 976.3,238 996.4,245.1 1016.5,250.7 1032.6,255.1 1050.7,261.2 1066.7,267.2 1080.8,270.2 1096.9,272.2 1120,273.2 1142.9,274.6 1160,274.2 1175.9,273.1 1189.5,270 1208.6,264.8 1228.7,257.7 1248.8,249.7 1264.9,245.7 1280,242.3 1300,237.3 1320,232 1340.5,226.3 1352.5,220 1372.6,209.7 1390.7,201.7 1404.7,198.3 1420.8,191.7 1436.9,183.6 1448.9,175.6 1460,169.1 1478,159 1495.5,150 1509.3,142.6 1523.2,136.4 1537,130.8 1550.9,125.5 1560.6,121.8 1573.1,120.1 1592.5,116.7 1613.3,113.5 1634.1,110.3 1658.8,106.3" fill="none" stroke="#ff00ff" stroke-width="1" shape-rendering="crispEdges"/>
<polyline points="3,347 30,347 52.8,345.2 71.6,341.1 90.5,340 101.8,340.2 113,343.7 122.5,346.7 132,350 139.5,348.6 147,347.5 158.9,342.2 177.7,336.5 190.9,330.8 206,322.4 221,312.9 234.3,306.3 243.7,302.6 258.8,299.4 272,296 283.3,288.4 300.2,279.4 317.2,271.8 328.5,269.2 338.9,265.4 357.7,263.1 376.5,262.7 395.4,260.3 414.3,257.4 429.3,252.7 442.5,248 455.7,241.4 470.8,234.4 484,231.1 499,224.5 518.9,215.2 537.7,206.7 554.7,200.1 571.6,196.3 586.7,193.1 601.8,190.7 616.9,187.5 632,184.1 647,182.2 656.5,182.2 669.7,184.7 681,185 692.3,187.5 699.8,186 708.9,185.2 727.7,184.9 739,183.4 746.5,184.9 756,187.5 765.4,193.3 778.6,201.3 788,210.7 799.3,221.4 810.6,231.8 820,239.9 829.5,245.6 838.9,250.8 850.2,255.4 867.2,262.5 878.5,267.8 889.8,272 900.2,277.1 915.3,284.7 924.7,289.4 932,289.9 946,290.9 960,284.3 976.3,278.8 988.3,278.2 1000.4,282.3 1014.5,287.7 1028.5,293.3 1040.6,298.3 1052.7,303.4 1064.7,307.8 1074.8,309.8 1084.8,306.4 1096.9,299.3 1109,293.3 1120,290.3 1129.8,288.9 1140,285 1149.5,279 1156.4,270 1169.3,254.3 1172.5,248.7 1178.5,241.7 1196.6,223.6 1208.6,210.5 1220.7,199.4 1230.8,190.4 1240.8,183.4 1250.9,177.9 1260.9,175.9 1271,172.7 1280,169.3 1292.2,164.5 1306.2,159.5 1322.3,154.5 1340.4,152.5 1360.5,148 1380.6,144.4 1400.7,137.4 1416.8,130.4 1430.9,123.3 1444.9,114.3 1453.9,110 1466.3,103.8 1481.6,99.6 1495.5,96.8 1509.3,94.5 1520.4,91.3 1530.1,88.5 1545.4,84.4 1557.9,84.4 1573.1,84.4 1578.6,85.5 1592.5,83.4 1606.4,83.4 1620.2,83.4 1634.1,83.4 1645.2,82 1658.8,80.2" fill="none" stroke="#ffa500" stroke-width="1" shape-rendering="crispEdges"/>
</g>
<g shape-rendering="crispEdges">
<rect x="3" y="89" width="1675" height="2" fill="#00ff7f"/>
<rect x="3" y="179" width="1675" height="2" fill="#4169e1"/>
<rect x="3" y="251" width="1675" height="2" fill="#4169e1"/>
</g>
<g shape-rendering="crispEdges">
<rect x="3" y="562" width="1" height="5" fill="#c0c0c0"/>
<rect x="11" y="562" width="1" height="5" fill="#c0c0c0"/>
<rect x="27" y="566" width="1" height="3" fill="#c0c0c0"/>
<rect x="35" y="566" width="1" height="6" fill="#c0c0c0"/>
<rect x="43" y="566" width="1" height="10" fill="#c0c0c0"/>
<rect x="51" y="566" width="1" height="8" fill="#c0c0c0"/>
<rect x="59" y="566" width="1" height="3" fill="#c0c0c0"/>
<rect x="75" y="561" width="1" height="6" fill="#c0c0c0"/>
<rect x="83" y="558" width="1" height="9" fill="#c0c0c0"/>
<rect x="91" y="556" width="1" height="11" fill="#c0c0c0"/>
<rect x="99" y="555" width="1" height="12" fill="#c0c0c0"/>
<rect x="107" y="556" width="1" height="11" fill="#c0c0c0"/>
<rect x="115" y="566" width="1" height="2" fill="#c0c0c0"/>
<rect x="123" y="566" width="1" height="4" fill="#c0c0c0"/>
<rect x="131" y="566" width="1" height="4" fill="#c0c0c0"/>
<rect x="139" y="566" width="1" height="1" fill="#c0c0c0"/>
<rect x="147" y="566" width="1" height="1" fill="#c0c0c0"/>
<rect x="155" y="555" width="1" height="12" fill="#c0c0c0"/>
<rect x="163" y="547" width="1" height="20" fill="#c0c0c0"/>
<rect x="171" y="542" width="1" height="25" fill="#c0c0c0"/>
<rect x="179" y="534" width="1" height="33" fill="#c0c0c0"/>
<rect x="187" y="528" width="1" height="39" fill="#c0c0c0"/>
<rect x="195" y="523" width="1" height="44" fill="#c0c0c0"/>
<rect x="203" y="520" width="1" height="47" fill="#c0c0c0"/>
<rect x="211" y="516" width="1" height="51" fill="#c0c0c0"/>
<rect x="219" y="512" width="1" height="55" fill="#c0c0c0"/>
<rect x="227" y="509" width="1" height="58" fill="#c0c0c0"/>
<rect x="235" y="507" width="1" height="60" fill="#c0c0c0"/>
<rect x="243" y="507" width="1" height="60" fill="#c0c0c0"/>
<rect x="251" y="512" width="1" height="55" fill="#c0c0c0"/>
<rect x="259" y="519" width="1" height="48" fill="#c0c0c0"/>
<rect x="267" y="524" width="1" height="43" fill="#c0c0c0"/>
<rect x="275" y="526" width="1" height="41" fill="#c0c0c0"/>
<rect x="283" y="528" width="1" height="39" fill="#c0c0c0"/>
<rect x="291" y="531" width="1" height="36" fill="#c0c0c0"/>
<rect x="299" y="531" width="1" height="36" fill="#c0c0c0"/>
<rect x="307" y="529" width="1" height="38" fill="#c0c0c0"/>
<rect x="315" y="525" width="1" height="42" fill="#c0c0c0"/>
<rect x="323" y="523" width="1" height="44" fill="#c0c0c0"/>
<rect x="331" y="524" width="1" height="43" fill="#c0c0c0"/>
<rect x="339" y="526" width="1" height="41" fill="#c0c0c0"/>
<rect x="347" y="527" width="1" height="40" fill="#c0c0c0"/>
<rect x="355" y="528" width="1" height="39" fill="#c0c0c0"/>
<rect x="363" y="532" width="1" height="35" fill="#c0c0c0"/>
<rect x="371" y="535" width="1" height="32" fill="#c0c0c0"/>
<rect x="379" y="536" width="1" height="31" fill="#c0c0c0"/>
<rect x="387" y="537" width="1" height="30" fill="#c0c0c0"/>
<rect x="395" y="533" width="1" height="34" fill="#c0c0c0"/>
<rect x="403" y="533" width="1" height="34" fill="#c0c0c0"/>
<rect x="411" y="532" width="1" height="35" fill="#c0c0c0"/>
<rect x="419" y="531" width="1" height="36" fill="#c0c0c0"/>
<rect x="427" y="530" width="1" height="37" fill="#c0c0c0"/>
<rect x="435" y="527" width="1" height="40" fill="#c0c0c0"/>
<rect x="443" y="526" width="1" height="41" fill="#c0c0c0"/>
<rect x="451" y="524" width="1" height="43" fill="#c0c0c0"/>
<rect x="459" y="518" width="1" height="49" fill="#c0c0c0"/>
<rect x="467" y="515" width="1" height="52" fill="#c0c0c0"/>
<rect x="475" y="513" width="1" height="54" fill="#c0c0c0"/>
<rect x="483" y="510" width="1" height="57" fill="#c0c0c0"/>
<rect x="491" y="508" width="1" height="59" fill="#c0c0c0"/>
<rect x="499" y="507" width="1" height="60" fill="#c0c0c0"/>
<rect x="507" y="508" width="1" height="59" fill="#c0c0c0"/>
<rect x="515" y="507" width="1" height="60" fill="#c0c0c0"/>
<rect x="523" y="508" width="1" height="59" fill="#c0c0c0"/>
<rect x="531" y="511" width="1" height="56" fill="#c0c0c0"/>
<rect x="539" y="513" width="1" height="54" fill="#c0c0c0"/>
<rect x="547" y="516" width="1" height="51" fill="#c0c0c0"/>
<rect x="555" y="518" width="1" height="49" fill="#c0c0c0"/>
<rect x="563" y="521" width="1" height="46" fill="#c0c0c0"/>
<rect x="571" y="528" width="1" height="39" fill="#c0c0c0"/>
<rect x="579" y="533" width="1" height="34" fill="#c0c0c0"/>
<rect x="587" y="537" width="1" height="30" fill="#c0c0c0"/>
<rect x="595" y="538" width="1" height="29" fill="#c0c0c0"/>
<rect x="603" y="539" width="1" height="28" fill="#c0c0c0"/>
<rect x="611" y="541" width="1" height="26" fill="#c0c0c0"/>
<rect x="619" y="537" width="1" height="30" fill="#c0c0c0"/>
<rect x="627" y="535" width="1" height="32" fill="#c0c0c0"/>
<rect x="635" y="534" width="1" height="33" fill="#c0c0c0"/>
<rect x="643" y="534" width="1" height="33" fill="#c0c0c0"/>
<rect x="651" y="536" width="1" height="31" fill="#c0c0c0"/>
<rect x="659" y="542" width="1" height="25" fill="#c0c0c0"/>
<rect x="667" y="547" width="1" height="20" fill="#c0c0c0"/>
<rect x="675" y="550" width="1" height="17" fill="#c0c0c0"/>
<rect x="683" y="552" width="1" height="15" fill="#c0c0c0"/>
<rect x="691" y="558" width="1" height="9" fill="#c0c0c0"/>
<rect x="699" y="557" width="1" height="10" fill="#c0c0c0"/>
<rect x="707" y="554" width="1" height="13" fill="#c0c0c0"/>
<rect x="715" y="553" width="1" height="14" fill="#c0c0c0"/>
<rect x="723" y="552" width="1" height="15" fill="#c0c0c0"/>
<rect x="731" y="549" width="1" height="18" fill="#c0c0c0"/>
<rect x="739" y="553" width="1" height="14" fill="#c0c0c0"/>
<rect x="747" y="566" width="1" height="1" fill="#c0c0c0"/>
<rect x="755" y="566" width="1" height="8" fill="#c0c0c0"/>
<rect x="763" y="566" width="1" height="29" fill="#c0c0c0"/>
<rect x="771" y="566" width="1" height="42" fill="#c0c0c0"/>
<rect x="779" y="566" width="1" height="54" fill="#c0c0c0"/>
<rect x="787" y="566" width="1" height="68" fill="#c0c0c0"/>
<rect x="795" y="566" width="1" height="78" fill="#c0c0c0"/>
<rect x="803" y="566" width="1" height="84" fill="#c0c0c0"/>
<rect x="811" y="566" width="1" height="89" fill="#c0c0c0"/>
<rect x="819" y="566" width="1" height="90" fill="#c0c0c0"/>
<rect x="827" y="566" width="1" height="86" fill="#c0c0c0"/>
<rect x="835" y="566" width="1" height="84" fill="#c0c0c0"/>
<rect x="843" y="566" width="1" height="74" fill="#c0c0c0"/>
<rect x="851" y="566" width="1" height="63" fill="#c0c0c0"/>
<rect x="859" y="566" width="1" height="56" fill="#c0c0c0"/>
<rect x="867" y="566" width="1" height="44" fill="#c0c0c0"/>
<rect x="875" y="566" width="1" height="36" fill="#c0c0c0"/>
<rect x="883" y="566" width="1" height="28" fill="#c0c0c0"/>
<rect x="891" y="566" width="1" height="23" fill="#c0c0c0"/>
<rect x="899" y="566" width="1" height="19" fill="#c0c0c0"/>
<rect x="907" y="566" width="1" height="20" fill="#c0c0c0"/>
<rect x="915" y="566" width="1" height="27" fill="#c0c0c0"/>
<rect x="923" y="566" width="1" height="36" fill="#c0c0c0"/>
<rect x="931" y="566" width="1" height="41" fill="#c0c0c0"/>
<rect x="939" y="566" width="1" height="47" fill="#c0c0c0"/>
<rect x="947" y="566" width="1" height="43" fill="#c0c0c0"/>
<rect x="955" y="566" width="1" height="30" fill="#c0c0c0"/>
<rect x="963" y="566" width="1" height="19" fill="#c0c0c0"/>
<rect x="971" y="566" width="1" height="13" fill="#c0c0c0"/>
<rect x="979" y="566" width="1" height="12" fill="#c0c0c0"/>
<rect x="987" y="566" width="1" height="21" fill="#c0c0c0"/>
<rect x="995" y="566" width="1" height="34" fill="#c0c0c0"/>
<rect x="1003" y="566" width="1" height="44" fill="#c0c0c0"/>
<rect x="1011" y="566" width="1" height="50" fill="#c0c0c0"/>
<rect x="1019" y="566" width="1" height="50" fill="#c0c0c0"/>
<rect x="1027" y="566" width="1" height="49" fill="#c0c0c0"/>
<rect x="1035" y="566" width="1" height="50" fill="#c0c0c0"/>
<rect x="1043" y="566" width="1" height="42" fill="#c0c0c0"/>
<rect x="1051" y="566" width="1" height="40" fill="#c0c0c0"/>
<rect x="1059" y="566" width="1" height="40" fill="#c0c0c0"/>
<rect x="1067" y="566" width="1" height="32" fill="#c0c0c0"/>
<rect x="1075" y="566" width="1" height="23" fill="#c0c0c0"/>
<rect x="1083" y="566" width="1" height="10" fill="#c0c0c0"/>
<rect x="1091" y="564" width="1" height="3" fill="#c0c0c0"/>
<rect x="1099" y="550" width="1" height="17" fill="#c0c0c0"/>
<rect x="1107" y="542" width="1" height="25" fill="#c0c0c0"/>
<rect x="1115" y="536" width="1" height="31" fill="#c0c0c0"/>
<rect x="1123" y="533" width="1" height="34" fill="#c0c0c0"/>
<rect x="1131" y="520" width="1" height="47" fill="#c0c0c0"/>
<rect x="1139" y="510" width="1" height="57" fill="#c0c0c0"/>
<rect x="1147" y="499" width="1" height="68" fill="#c0c0c0"/>
<rect x="1155" y="490" width="1" height="77" fill="#c0c0c0"/>
<rect x="1163" y="480" width="1" height="87" fill="#c0c0c0"/>
<rect x="1171" y="470" width="1" height="97" fill="#c0c0c0"/>
<rect x="1179" y="465" width="1" height="102" fill="#c0c0c0"/>
<rect x="1187" y="466" width="1" height="101" fill="#c0c0c0"/>
<rect x="1195" y="466" width="1" height="101" fill="#c0c0c0"/>
<rect x="1203" y="466" width="1" height="101" fill="#c0c0c0"/>
<rect x="1211" y="469" width="1" height="98" fill="#c0c0c0"/>
<rect x="1219" y="472" width="1" height="95" fill="#c0c0c0"/>
<rect x="1227" y="479" width="1" height="88" fill="#c0c0c0"/>
<rect x="1235" y="486" width="1" height="81" fill="#c0c0c0"/>
<rect x="1243" y="494" width="1" height="73" fill="#c0c0c0"/>
<rect x="1251" y="502" width="1" height="65" fill="#c0c0c0"/>
<rect x="1259" y="514" width="1" height="53" fill="#c0c0c0"/>
<rect x="1267" y="519" width="1" height="48" fill="#c0c0c0"/>
<rect x="1275" y="523" width="1" height="44" fill="#c0c0c0"/>
<rect x="1283" y="527" width="1" height="40" fill="#c0c0c0"/>
<rect x="1291" y="526" width="1" height="41" fill="#c0c0c0"/>
<rect x="1299" y="524" width="1" height="43" fill="#c0c0c0"/>
<rect x="1307" y="520" width="1" height="47" fill="#c0c0c0"/>
<rect x="1315" y="513" width="1" height="54" fill="#c0c0c0"/>
<rect x="1323" y="509" width="1" height="58" fill="#c0c0c0"/>
<rect x="1331" y="507" width="1" height="60" fill="#c0c0c0"/>
<rect x="1339" y="502" width="1" height="65" fill="#c0c0c0"/>
<rect x="1347" y="503" width="1" height="64" fill="#c0c0c0"/>
<rect x="1355" y="504" width="1" height="63" fill="#c0c0c0"/>
<rect x="1363" y="504" width="1" height="63" fill="#c0c0c0"/>
<rect x="1371" y="505" width="1" height="62" fill="#c0c0c0"/>
<rect x="1379" y="504" width="1" height="63" fill="#c0c0c0"/>
<rect x="1387" y="504" width="1" height="63" fill="#c0c0c0"/>
<rect x="1395" y="502" width="1" height="65" fill="#c0c0c0"/>
<rect x="1403" y="505" width="1" height="62" fill="#c0c0c0"/>
<rect x="1411" y="507" width="1" height="60" fill="#c0c0c0"/>
<rect x="1419" y="512" width="1" height="55" fill="#c0c0c0"/>
<rect x="1427" y="518" width="1" height="49" fill="#c0c0c0"/>
<rect x="1435" y="517" width="1" height="50" fill="#c0c0c0"/>
<rect x="1443" y="515" width="1" height="52" fill="#c0c0c0"/>
<rect x="1451" y="516" width="1" height="51" fill="#c0c0c0"/>
<rect x="1459" y="514" width="1" height="53" fill="#c0c0c0"/>
<rect x="1467" y="512" width="1" height="55" fill="#c0c0c0"/>
<rect x="1475" y="514" width="1" height="53" fill="#c0c0c0"/>
<rect x="1483" y="514" width="1" height="53" fill="#c0c0c0"/>
<rect x="1491" y="520" width="1" height="47" fill="#c0c0c0"/>
<rect x="1499" y="521" width="1" height="46" fill="#c0c0c0"/>
<rect x="1507" y="520" width="1" height="47" fill="#c0c0c0"/>
<rect x="1515" y="520" width="1" height="47" fill="#c0c0c0"/>
<rect x="1523" y="519" width="1" height="48" fill="#c0c0c0"/>
<rect x="1531" y="519" width="1" height="48" fill="#c0c0c0"/>
<rect x="1539" y="521" width="1" height="46" fill="#c0c0c0"/>
<rect x="1547" y="522" width="1" height="45" fill="#c0c0c0"/>
<rect x="1555" y="528" width="1" height="39" fill="#c0c0c0"/>
<rect x="1563" y="536" width="1" height="31" fill="#c0c0c0"/>
<rect x="1571" y="544" width="1" height="23" fill="#c0c0c0"/>
<rect x="1579" y="551" width="1" height="16" fill="#c0c0c0"/>
<rect x="1587" y="556" width="1" height="11" fill="#c0c0c0"/>
<rect x="1595" y="557" width="1" height="10" fill="#c0c0c0"/>
<rect x="1603" y="557" width="1" height="10" fill="#c0c0c0"/>
<rect x="1611" y="555" width="1" height="12" fill="#c0c0c0"/>
<rect x="1619" y="555" width="1" height="12" fill="#c0c0c0"/>
<rect x="1627" y="555" width="1" height="12" fill="#c0c0c0"/>
<rect x="1635" y="552" width="1" height="15" fill="#c0c0c0"/>
<rect x="1643" y="548" width="1" height="19" fill="#c0c0c0"/>
<rect x="1651" y="546" width="1" height="21" fill="#c0c0c0"/>
<rect x="1659" y="544" width="1" height="23" fill="#c0c0c0"/>
</g>
<path d="M1227 469h3v1h-3zM1221 470h3v1h-3zM1233 470h3v1h-3zM1215 472h3v1h-3zM1239 472h3v1h-3zM1210 474h2v1h-2zM1245 474h1v1h-1zM1209 475h1v1h-1zM1246 475h2v1h-2zM1204 477h2v1h-2zM1251 477h1v1h-1zM1203 478h1v1h-1zM1252 478h2v1h-2zM1199 481h1v1h-1zM1257 481h2v1h-2zM1197 482h2v1h-2zM1259 482h1v1h-1zM1263 485h1v1h-1zM1193 486h1v1h-1zM1264 486h1v1h-1zM1192 487h1v1h-1zM1265 487h1v1h-1zM1191 488h1v1h-1zM1269 490h2v1h-2zM1271 491h1v1h-1zM1187 492h1v1h-1zM1186 493h1v1h-1zM1185 494h1v1h-1zM1275 494h1v1h-1zM1276 495h1v1h-1zM1277 496h1v1h-1zM1181 497h1v1h-1zM1180 498h1v1h-1zM1179 499h1v1h-1zM1281 499h1v1h-1zM1282 500h1v1h-1zM1283 501h1v1h-1zM1175 503h1v1h-1zM1391 503h1v1h-1zM1395 503h3v1h-3zM1401 503h3v1h-3zM1407 503h3v1h-3zM1413 503h2v1h-2zM1175 504h1v1h-1zM1287 504h1v1h-1zM1383 504h3v1h-3zM1389 504h2v1h-2zM1415 504h1v1h-1zM1419 504h3v1h-3zM1174 505h1v1h-1zM1288 505h1v1h-1zM1377 505h3v1h-3zM1425 505h3v1h-3zM1289 506h1v1h-1zM1371 506h3v1h-3zM1431 506h2v1h-2zM1367 507h1v1h-1zM1433 507h1v1h-1zM1437 507h2v1h-2zM536 508h3v1h-3zM542 508h1v1h-1zM1293 508h1v1h-1zM1365 508h2v1h-2zM1439 508h1v1h-1zM1443 508h3v1h-3zM524 509h3v1h-3zM530 509h3v1h-3zM543 509h2v1h-2zM548 509h3v1h-3zM1170 509h1v1h-1zM1294 509h2v1h-2zM1361 509h1v1h-1zM1449 509h3v1h-3zM518 510h3v1h-3zM554 510h3v1h-3zM1169 510h1v1h-1zM1359 510h2v1h-2zM1455 510h2v1h-2zM513 511h2v1h-2zM560 511h3v1h-3zM1168 511h1v1h-1zM1299 511h1v1h-1zM1353 511h3v1h-3zM1457 511h1v1h-1zM1461 511h2v1h-2zM512 512h1v1h-1zM566 512h3v1h-3zM1300 512h2v1h-2zM1349 512h1v1h-1zM1463 512h1v1h-1zM1467 512h3v1h-3zM255 513h2v1h-2zM260 513h3v1h-3zM266 513h3v1h-3zM272 513h3v1h-3zM506 513h3v1h-3zM572 513h1v1h-1zM1347 513h2v1h-2zM1473 513h3v1h-3zM249 514h2v1h-2zM254 514h1v1h-1zM278 514h3v1h-3zM501 514h2v1h-2zM573 514h2v1h-2zM1305 514h1v1h-1zM1343 514h1v1h-1zM1479 514h3v1h-3zM1485 514h3v1h-3zM1491 514h3v1h-3zM248 515h1v1h-1zM284 515h1v1h-1zM500 515h1v1h-1zM578 515h2v1h-2zM1165 515h1v1h-1zM1306 515h2v1h-2zM1341 515h2v1h-2zM1497 515h3v1h-3zM1503 515h3v1h-3zM1509 515h3v1h-3zM1515 515h3v1h-3zM242 516h3v1h-3zM285 516h2v1h-2zM494 516h3v1h-3zM580 516h1v1h-1zM1164 516h1v1h-1zM1311 516h2v1h-2zM1337 516h1v1h-1zM1521 516h3v1h-3zM290 517h3v1h-3zM490 517h1v1h-1zM1163 517h1v1h-1zM1313 517h1v1h-1zM1317 517h2v1h-2zM1335 517h2v1h-2zM1527 517h3v1h-3zM1533 517h2v1h-2zM238 518h1v1h-1zM296 518h3v1h-3zM488 518h2v1h-2zM584 518h2v1h-2zM1319 518h1v1h-1zM1323 518h3v1h-3zM1329 518h3v1h-3zM1535 518h1v1h-1zM1539 518h3v1h-3zM236 519h2v1h-2zM302 519h1v1h-1zM586 519h1v1h-1zM1545 519h3v1h-3zM303 520h2v1h-2zM484 520h1v1h-1zM590 520h1v1h-1zM1551 520h3v1h-3zM232 521h1v1h-1zM308 521h1v1h-1zM482 521h2v1h-2zM591 521h2v1h-2zM1159 521h1v1h-1zM1557 521h3v1h-3zM230 522h2v1h-2zM309 522h2v1h-2zM477 522h2v1h-2zM1159 522h1v1h-1zM1563 522h2v1h-2zM314 523h3v1h-3zM476 523h1v1h-1zM596 523h2v1h-2zM1158 523h1v1h-1zM1565 523h1v1h-1zM320 524h1v1h-1zM470 524h3v1h-3zM598 524h1v1h-1zM1569 524h3v1h-3zM225 525h2v1h-2zM321 525h2v1h-2zM326 525h1v1h-1zM465 525h2v1h-2zM224 526h1v1h-1zM327 526h2v1h-2zM332 526h3v1h-3zM338 526h3v1h-3zM344 526h3v1h-3zM350 526h3v1h-3zM356 526h3v1h-3zM362 526h3v1h-3zM368 526h3v1h-3zM374 526h1v1h-1zM464 526h1v1h-1zM602 526h3v1h-3zM1575 526h1v1h-1zM375 527h2v1h-2zM380 527h1v1h-1zM458 527h3v1h-3zM1154 527h1v1h-1zM1576 527h2v1h-2zM220 528h1v1h-1zM381 528h2v1h-2zM453 528h2v1h-2zM608 528h2v1h-2zM1153 528h1v1h-1zM219 529h1v1h-1zM386 529h3v1h-3zM447 529h2v1h-2zM452 529h1v1h-1zM610 529h1v1h-1zM1153 529h1v1h-1zM1581 529h2v1h-2zM218 530h1v1h-1zM392 530h3v1h-3zM398 530h1v1h-1zM441 530h2v1h-2zM446 530h1v1h-1zM614 530h3v1h-3zM1583 530h1v1h-1zM399 531h2v1h-2zM404 531h3v1h-3zM440 531h1v1h-1zM620 531h1v1h-1zM1587 531h1v1h-1zM410 532h3v1h-3zM416 532h3v1h-3zM422 532h3v1h-3zM428 532h3v1h-3zM434 532h3v1h-3zM621 532h2v1h-2zM1588 532h2v1h-2zM213 533h2v1h-2zM626 533h3v1h-3zM1149 533h1v1h-1zM212 534h1v1h-1zM632 534h3v1h-3zM638 534h1v1h-1zM1149 534h1v1h-1zM1593 534h1v1h-1zM639 535h2v1h-2zM644 535h3v1h-3zM650 535h3v1h-3zM1148 535h1v1h-1zM1594 535h2v1h-2zM656 536h3v1h-3zM662 536h1v1h-1zM208 537h1v1h-1zM663 537h2v1h-2zM668 537h3v1h-3zM1599 537h1v1h-1zM207 538h1v1h-1zM674 538h3v1h-3zM1600 538h2v1h-2zM206 539h1v1h-1zM680 539h3v1h-3zM1145 539h1v1h-1zM686 540h1v1h-1zM1144 540h1v1h-1zM1605 540h1v1h-1zM687 541h2v1h-2zM1143 541h1v1h-1zM1606 541h2v1h-2zM201 542h2v1h-2zM692 542h1v1h-1zM200 543h1v1h-1zM693 543h2v1h-2zM1611 543h1v1h-1zM698 544h3v1h-3zM1612 544h2v1h-2zM196 545h1v1h-1zM1140 545h1v1h-1zM195 546h1v1h-1zM704 546h2v1h-2zM1139 546h1v1h-1zM1617 546h1v1h-1zM194 547h1v1h-1zM706 547h1v1h-1zM1138 547h1v1h-1zM1618 547h2v1h-2zM710 548h3v1h-3zM190 549h1v1h-1zM716 549h1v1h-1zM1623 549h3v1h-3zM188 550h2v1h-2zM717 550h2v1h-2zM1659 550h1v1h-1zM722 551h3v1h-3zM728 551h3v1h-3zM734 551h1v1h-1zM1135 551h1v1h-1zM1629 551h3v1h-3zM1653 551h3v1h-3zM735 552h2v1h-2zM740 552h1v1h-1zM1134 552h1v1h-1zM1635 552h3v1h-3zM1641 552h3v1h-3zM1647 552h3v1h-3zM183 553h2v1h-2zM741 553h2v1h-2zM1133 553h1v1h-1zM3 554h2v1h-2zM182 554h1v1h-1zM746 554h3v1h-3zM8 555h3v1h-3zM14 555h1v1h-1zM752 555h1v1h-1zM15 556h2v1h-2zM20 556h1v1h-1zM178 556h1v1h-1zM753 556h2v1h-2zM21 557h2v1h-2zM176 557h2v1h-2zM1130 557h1v1h-1zM26 558h3v1h-3zM758 558h1v1h-1zM1129 558h1v1h-1zM170 559h3v1h-3zM759 559h2v1h-2zM1128 559h1v1h-1zM32 560h2v1h-2zM165 560h2v1h-2zM34 561h1v1h-1zM159 561h2v1h-2zM164 561h1v1h-1zM106 562h1v1h-1zM110 562h3v1h-3zM116 562h3v1h-3zM122 562h3v1h-3zM128 562h3v1h-3zM134 562h3v1h-3zM140 562h3v1h-3zM146 562h3v1h-3zM152 562h3v1h-3zM158 562h1v1h-1zM764 562h2v1h-2zM38 563h2v1h-2zM104 563h2v1h-2zM766 563h1v1h-1zM1125 563h1v1h-1zM40 564h1v1h-1zM1124 564h1v1h-1zM44 565h1v1h-1zM98 565h3v1h-3zM770 565h1v1h-1zM1123 565h1v1h-1zM45 566h2v1h-2zM92 566h3v1h-3zM771 566h1v1h-1zM50 567h3v1h-3zM86 567h3v1h-3zM772 567h1v1h-1zM56 568h1v1h-1zM80 568h3v1h-3zM57 569h2v1h-2zM62 569h3v1h-3zM68 569h3v1h-3zM74 569h3v1h-3zM1119 569h1v1h-1zM1119 570h1v1h-1zM776 571h1v1h-1zM1118 571h1v1h-1zM777 572h1v1h-1zM778 573h1v1h-1zM1114 575h1v1h-1zM1113 576h1v1h-1zM782 577h1v1h-1zM1112 577h1v1h-1zM783 578h1v1h-1zM784 579h1v1h-1zM1108 581h1v1h-1zM1107 582h1v1h-1zM788 583h1v1h-1zM1106 583h1v1h-1zM789 584h1v1h-1zM789 585h1v1h-1zM1102 587h1v1h-1zM1101 588h1v1h-1zM793 589h1v1h-1zM1100 589h1v1h-1zM793 590h1v1h-1zM794 591h1v1h-1zM1096 592h1v1h-1zM1095 593h1v1h-1zM1094 594h1v1h-1zM797 595h1v1h-1zM986 595h3v1h-3zM992 595h3v1h-3zM998 595h3v1h-3zM1004 595h3v1h-3zM1010 595h3v1h-3zM798 596h1v1h-1zM975 596h2v1h-2zM980 596h3v1h-3zM1016 596h3v1h-3zM798 597h1v1h-1zM932 597h3v1h-3zM962 597h3v1h-3zM968 597h3v1h-3zM974 597h1v1h-1zM1022 597h3v1h-3zM1090 597h1v1h-1zM926 598h3v1h-3zM938 598h3v1h-3zM944 598h3v1h-3zM950 598h3v1h-3zM956 598h3v1h-3zM1028 598h1v1h-1zM1089 598h1v1h-1zM921 599h2v1h-2zM1029 599h2v1h-2zM1088 599h1v1h-1zM920 600h1v1h-1zM801 601h1v1h-1zM915 601h2v1h-2zM1034 601h2v1h-2zM802 602h1v1h-1zM914 602h1v1h-1zM1036 602h1v1h-1zM1084 602h1v1h-1zM802 603h1v1h-1zM1082 603h2v1h-2zM910 604h1v1h-1zM1040 604h2v1h-2zM908 605h2v1h-2zM1042 605h1v1h-1zM1078 605h1v1h-1zM1046 606h1v1h-1zM1076 606h2v1h-2zM805 607h1v1h-1zM1047 607h2v1h-2zM806 608h1v1h-1zM1052 608h3v1h-3zM1070 608h3v1h-3zM807 609h1v1h-1zM903 609h2v1h-2zM1058 609h3v1h-3zM1064 609h3v1h-3zM902 610h1v1h-1zM810 613h1v1h-1zM810 614h1v1h-1zM898 614h1v1h-1zM811 615h1v1h-1zM897 615h1v1h-1zM896 616h1v1h-1zM814 619h1v1h-1zM815 620h1v1h-1zM892 620h1v1h-1zM816 621h1v1h-1zM891 621h1v1h-1zM890 622h1v1h-1zM819 625h1v1h-1zM886 625h1v1h-1zM820 626h1v1h-1zM885 626h1v1h-1zM821 627h1v1h-1zM884 627h1v1h-1zM880 630h1v1h-1zM824 631h1v1h-1zM879 631h1v1h-1zM825 632h1v1h-1zM878 632h1v1h-1zM826 633h1v1h-1zM873 635h2v1h-2zM872 636h1v1h-1zM830 637h1v1h-1zM831 638h2v1h-2zM868 638h1v1h-1zM866 639h2v1h-2zM836 641h1v1h-1zM862 641h1v1h-1zM837 642h2v1h-2zM860 642h2v1h-2zM842 644h3v1h-3zM854 644h3v1h-3zM848 645h3v1h-3z" fill="#ff0000" shape-rendering="crispEdges"/>
<line x1="3" y1="700.5" x2="1678" y2="700.5" stroke="#c0c0c0" stroke-width="1" stroke-dasharray="3 3" shape-rendering="crispEdges"/>
<line x1="3" y1="742.5" x2="1678" y2="742.5" stroke="#c0c0c0" stroke-width="1" stroke-dasharray="3 3" shape-rendering="crispEdges"/>
<polyline points="3.5,717.4 11.5,721.9 19.5,726.5 27.5,725.3 35.5,726.9 43.5,729.5 51.5,721 59.5,717.4 67.5,716.4 75.5,713.4 83.5,715.4 91.5,716.4 99.5,717.4 107.5,718.8 115.5,736.6 123.5,723.5 131.5,722.1 139.5,718.4 147.5,717.4 155.5,710.3 163.5,710.3 171.5,710.3 179.5,707.3 187.5,707.3 195.5,706.3 203.5,706.3 211.5,704.3 219.5,702.6 227.5,702.4 235.5,702.2 243.5,705.3 251.5,713.4 259.5,718.4 267.5,716.4 275.5,713.4 283.5,713.4 291.5,714.8 299.5,711.3 307.5,707.3 315.5,702.6 323.5,707.3 331.5,710.7 339.5,709.3 347.5,711.3 355.5,711.3 363.5,717.4 371.5,716.4 379.5,712.3 387.5,711.3 395.5,704.7 403.5,710.3 411.5,707.3 419.5,708.3 427.5,706.3 435.5,702.6 443.5,703.3 451.5,700.8 459.5,696.2 467.5,697.6 475.5,696.2 483.5,694.6 491.5,697.2 499.5,695.4 507.5,697.2 515.5,695.4 523.5,697.6 531.5,703.3 539.5,703.5 547.5,703.5 555.5,701.2 563.5,705.3 571.5,721 579.5,717.4 587.5,717.4 595.5,712.3 603.5,710.3 611.5,711.9 619.5,702.6 627.5,703.7 635.5,704.7 643.5,706.3 651.5,710.9 659.5,725.5 667.5,725.5 675.5,720.8 683.5,719.4 691.5,729.1 699.5,716.4 707.5,712.3 715.5,714.4 723.5,714.4 731.5,710.3 739.5,723.5 747.5,736.2 755.5,736.2 763.5,747.1 771.5,743.3 779.5,744.7 787.5,748.3 795.5,748.3 803.5,745.7 811.5,745.1 819.5,743.3 827.5,735.2 835.5,737.6 843.5,725.5 851.5,722.5 859.5,725.5 867.5,718.4 875.5,720.4 883.5,718.4 891.5,721.4 899.5,721.4 907.5,726.1 915.5,734.2 923.5,737.6 931.5,735.2 939.5,737.2 947.5,725.5 955.5,716 963.5,714.4 971.5,718 979.5,722.1 987.5,731.2 995.5,735 1003.5,736.2 1011.5,734.2 1019.5,728.5 1027.5,729.5 1035.5,730.5 1043.5,722.5 1051.5,725.5 1059.5,728.5 1067.5,719.4 1075.5,717.4 1083.5,713.4 1091.5,709.3 1099.5,707.3 1107.5,711.3 1115.5,711.3 1123.5,712.3 1131.5,703.7 1139.5,703.3 1147.5,701.6 1155.5,700.2 1163.5,697.6 1171.5,696.2 1179.5,698.2 1187.5,704.3 1195.5,703.3 1203.5,701.2 1211.5,705.3 1219.5,706.7 1227.5,710.3 1235.5,711.3 1243.5,714.4 1251.5,716.4 1259.5,724.5 1267.5,716.4 1275.5,716.4 1283.5,716.4 1291.5,711.3 1299.5,709.3 1307.5,705.3 1315.5,702.2 1323.5,703.7 1331.5,704.7 1339.5,700.2 1347.5,708.7 1355.5,707.3 1363.5,707.3 1371.5,705.3 1379.5,703.3 1387.5,704.3 1395.5,701.2 1403.5,709.3 1411.5,708.3 1419.5,712.3 1427.5,717.4 1435.5,708.3 1443.5,705.3 1451.5,710.9 1459.5,707.3 1467.5,707.3 1475.5,708.3 1483.5,711.3 1491.5,715.4 1499.5,711.3 1507.5,708.3 1515.5,707.3 1523.5,707.3 1531.5,707.3 1539.5,708.3 1547.5,708.3 1555.5,719.4 1563.5,724.5 1571.5,728.5 1579.5,727.5 1587.5,724.9 1595.5,721.4 1603.5,716.4 1611.5,714.4 1619.5,715.4 1627.5,717.4 1635.5,710.3 1643.5,707.3 1651.5,711.3 1659.5,709.3" fill="none" stroke="#1e90ff" stroke-width="1" shape-rendering="crispEdges"/>
<rect x="1679" y="52" width="2" height="1" fill="#000000"/>
<text x="1684.2" y="56" font-size="10.2" fill="#000" textLength="37.6" lengthAdjust="spacingAndGlyphs" stroke="#000" stroke-width="0.16">3395.980</text>
<rect x="1679" y="85" width="2" height="1" fill="#000000"/>
<text x="1684.2" y="89" font-size="10.2" fill="#000" textLength="37.6" lengthAdjust="spacingAndGlyphs" stroke="#000" stroke-width="0.16">3377.830</text>
<rect x="1679" y="118" width="2" height="1" fill="#000000"/>
<text x="1684.2" y="122" font-size="10.2" fill="#000" textLength="37.6" lengthAdjust="spacingAndGlyphs" stroke="#000" stroke-width="0.16">3359.130</text>
<rect x="1679" y="151" width="2" height="1" fill="#000000"/>
<text x="1684.2" y="155" font-size="10.2" fill="#000" textLength="37.6" lengthAdjust="spacingAndGlyphs" stroke="#000" stroke-width="0.16">3340.980</text>
<rect x="1679" y="184" width="2" height="1" fill="#000000"/>
<text x="1684.2" y="188" font-size="10.2" fill="#000" textLength="37.6" lengthAdjust="spacingAndGlyphs" stroke="#000" stroke-width="0.16">3322.830</text>
<rect x="1679" y="217" width="2" height="1" fill="#000000"/>
<text x="1684.2" y="221" font-size="10.2" fill="#000" textLength="37.6" lengthAdjust="spacingAndGlyphs" stroke="#000" stroke-width="0.16">3304.680</text>
<rect x="1679" y="250" width="2" height="1" fill="#000000"/>
<text x="1684.2" y="254" font-size="10.2" fill="#000" textLength="37.6" lengthAdjust="spacingAndGlyphs" stroke="#000" stroke-width="0.16">3286.530</text>
<rect x="1679" y="283" width="2" height="1" fill="#000000"/>
<text x="1684.2" y="287" font-size="10.2" fill="#000" textLength="37.6" lengthAdjust="spacingAndGlyphs" stroke="#000" stroke-width="0.16">3267.830</text>
<rect x="1679" y="316" width="2" height="1" fill="#000000"/>
<text x="1684.2" y="320" font-size="10.2" fill="#000" textLength="37.6" lengthAdjust="spacingAndGlyphs" stroke="#000" stroke-width="0.16">3249.680</text>
<rect x="1679" y="349" width="2" height="1" fill="#000000"/>
<text x="1684.2" y="354" font-size="10.2" fill="#000" textLength="37.6" lengthAdjust="spacingAndGlyphs" stroke="#000" stroke-width="0.16">3231.530</text>
<rect x="1679" y="382" width="2" height="1" fill="#000000"/>
<text x="1684.2" y="386" font-size="10.2" fill="#000" textLength="37.6" lengthAdjust="spacingAndGlyphs" stroke="#000" stroke-width="0.16">3213.380</text>
<rect x="1679" y="415" width="2" height="1" fill="#000000"/>
<text x="1684.2" y="419" font-size="10.2" fill="#000" textLength="37.6" lengthAdjust="spacingAndGlyphs" stroke="#000" stroke-width="0.16">3195.230</text>
<rect x="1679" y="448" width="2" height="1" fill="#000000"/>
<text x="1684.2" y="452" font-size="10.2" fill="#000" textLength="37.6" lengthAdjust="spacingAndGlyphs" stroke="#000" stroke-width="0.16">3177.080</text>
<rect x="1680" y="56" width="46" height="11" fill="#000000"/>
<text x="1684.2" y="65" font-size="10.2" fill="#fff" textLength="37.6" lengthAdjust="spacingAndGlyphs" stroke="#fff" stroke-width="0.16">3391.000</text>
<rect x="1680" y="84" width="46" height="11" fill="#00ff7f"/>
<text x="1684.2" y="93" font-size="10.2" fill="#fff" textLength="37.6" lengthAdjust="spacingAndGlyphs" stroke="#fff" stroke-width="0.16">3375.000</text>
<rect x="1680" y="174" width="46" height="11" fill="#4169e1"/>
<text x="1684.2" y="183" font-size="10.2" fill="#fff" textLength="37.6" lengthAdjust="spacingAndGlyphs" stroke="#fff" stroke-width="0.16">3325.000</text>
<rect x="1680" y="246" width="46" height="11" fill="#4169e1"/>
<text x="1684.2" y="255" font-size="10.2" fill="#fff" textLength="37.6" lengthAdjust="spacingAndGlyphs" stroke="#fff" stroke-width="0.16">3285.000</text>
<rect x="1679" y="455" width="1" height="1" fill="#000000"/>
<rect x="1679" y="665" width="1" height="1" fill="#000000"/>
<rect x="1679" y="670" width="1" height="1" fill="#000000"/>
<rect x="1679" y="772" width="1" height="1" fill="#000000"/>
<text x="1681.8" y="464" font-size="10.2" fill="#000" textLength="33" lengthAdjust="spacingAndGlyphs" stroke="#000" stroke-width="0.16">23.9013</text>
<rect x="1679" y="566" width="2" height="1" fill="#000000"/>
<text x="1681.8" y="569.8" font-size="10.2" fill="#000" textLength="18" lengthAdjust="spacingAndGlyphs" stroke="#000" stroke-width="0.16">0.00</text>
<text x="1681.8" y="663" font-size="10.2" fill="#000" textLength="36" lengthAdjust="spacingAndGlyphs" stroke="#000" stroke-width="0.16">-21.4936</text>
<text x="1682.2" y="679" font-size="10.2" fill="#000" textLength="14.5" lengthAdjust="spacingAndGlyphs" stroke="#000" stroke-width="0.16">100</text>
<text x="1682.2" y="704.2" font-size="10.2" fill="#000" textLength="9.6" lengthAdjust="spacingAndGlyphs" stroke="#000" stroke-width="0.16">70</text>
<text x="1682.2" y="745.8" font-size="10.2" fill="#000" textLength="9.6" lengthAdjust="spacingAndGlyphs" stroke="#000" stroke-width="0.16">30</text>
<text x="1682.2" y="770" font-size="10.2" fill="#000" stroke="#000" stroke-width="0.16">0</text>
<path d="M6 43 h8 l-4 4.5 z" fill="#000"/>
<text x="18" y="48" font-size="10.2" fill="#000" textLength="212" lengthAdjust="spacingAndGlyphs" stroke="#000" stroke-width="0.16" xml:space="preserve">SP500-,H4  3387.750 3391.500 3387.750 3391.000</text>
<text x="7" y="466" font-size="10.2" fill="#000" textLength="127.5" lengthAdjust="spacingAndGlyphs" stroke="#000" stroke-width="0.16">MACD(12,26,9) 4.8191 3.1267</text>
<text x="7" y="681" font-size="10.2" fill="#000" textLength="68" lengthAdjust="spacingAndGlyphs" stroke="#000" stroke-width="0.16">RSI(14) 61.7989</text>
<rect x="3" y="774" width="1" height="3" fill="#000000"/>
<text x="2.2" y="786" font-size="10.2" fill="#000" textLength="44.5" lengthAdjust="spacingAndGlyphs" stroke="#000" stroke-width="0.16">3 Jan 2020</text>
<rect x="67" y="774" width="1" height="3" fill="#000000"/>
<text x="66.2" y="786" font-size="10.2" fill="#000" textLength="48.5" lengthAdjust="spacingAndGlyphs" stroke="#000" stroke-width="0.16">6 Jan 20:00</text>
<rect x="131" y="774" width="1" height="3" fill="#000000"/>
<text x="130.2" y="786" font-size="10.2" fill="#000" textLength="48.5" lengthAdjust="spacingAndGlyphs" stroke="#000" stroke-width="0.16">8 Jan 04:00</text>
<rect x="195" y="774" width="1" height="3" fill="#000000"/>
<text x="194.2" y="786" font-size="10.2" fill="#000" textLength="48.5" lengthAdjust="spacingAndGlyphs" stroke="#000" stroke-width="0.16">9 Jan 12:00</text>
<rect x="259" y="774" width="1" height="3" fill="#000000"/>
<text x="258.2" y="786" font-size="10.2" fill="#000" textLength="53.6" lengthAdjust="spacingAndGlyphs" stroke="#000" stroke-width="0.16">10 Jan 20:00</text>
<rect x="323" y="774" width="1" height="3" fill="#000000"/>
<text x="322.2" y="786" font-size="10.2" fill="#000" textLength="53.6" lengthAdjust="spacingAndGlyphs" stroke="#000" stroke-width="0.16">14 Jan 00:00</text>
<rect x="387" y="774" width="1" height="3" fill="#000000"/>
<text x="386.2" y="786" font-size="10.2" fill="#000" textLength="53.6" lengthAdjust="spacingAndGlyphs" stroke="#000" stroke-width="0.16">15 Jan 08:00</text>
<rect x="451" y="774" width="1" height="3" fill="#000000"/>
<text x="450.2" y="786" font-size="10.2" fill="#000" textLength="53.6" lengthAdjust="spacingAndGlyphs" stroke="#000" stroke-width="0.16">16 Jan 16:00</text>
<rect x="515" y="774" width="1" height="3" fill="#000000"/>
<text x="514.2" y="786" font-size="10.2" fill="#000" textLength="53.6" lengthAdjust="spacingAndGlyphs" stroke="#000" stroke-width="0.16">19 Jan 23:00</text>
<rect x="579" y="774" width="1" height="3" fill="#000000"/>
<text x="578.2" y="786" font-size="10.2" fill="#000" textLength="53.6" lengthAdjust="spacingAndGlyphs" stroke="#000" stroke-width="0.16">21 Jan 04:00</text>
<rect x="643" y="774" width="1" height="3" fill="#000000"/>
<text x="642.2" y="786" font-size="10.2" fill="#000" textLength="53.6" lengthAdjust="spacingAndGlyphs" stroke="#000" stroke-width="0.16">22 Jan 12:00</text>
<rect x="707" y="774" width="1" height="3" fill="#000000"/>
<text x="706.2" y="786" font-size="10.2" fill="#000" textLength="53.6" lengthAdjust="spacingAndGlyphs" stroke="#000" stroke-width="0.16">23 Jan 20:00</text>
<rect x="771" y="774" width="1" height="3" fill="#000000"/>
<text x="770.2" y="786" font-size="10.2" fill="#000" textLength="53.6" lengthAdjust="spacingAndGlyphs" stroke="#000" stroke-width="0.16">27 Jan 00:00</text>
<rect x="835" y="774" width="1" height="3" fill="#000000"/>
<text x="834.2" y="786" font-size="10.2" fill="#000" textLength="53.6" lengthAdjust="spacingAndGlyphs" stroke="#000" stroke-width="0.16">28 Jan 08:00</text>
<rect x="899" y="774" width="1" height="3" fill="#000000"/>
<text x="898.2" y="786" font-size="10.2" fill="#000" textLength="53.6" lengthAdjust="spacingAndGlyphs" stroke="#000" stroke-width="0.16">29 Jan 16:00</text>
<rect x="963" y="774" width="1" height="3" fill="#000000"/>
<text x="962.2" y="786" font-size="10.2" fill="#000" textLength="53.6" lengthAdjust="spacingAndGlyphs" stroke="#000" stroke-width="0.16">31 Jan 00:00</text>
<rect x="1027" y="774" width="1" height="3" fill="#000000"/>
<text x="1026.2" y="786" font-size="10.2" fill="#000" textLength="49.3" lengthAdjust="spacingAndGlyphs" stroke="#000" stroke-width="0.16">3 Feb 04:00</text>
<rect x="1091" y="774" width="1" height="3" fill="#000000"/>
<text x="1090.2" y="786" font-size="10.2" fill="#000" textLength="49.3" lengthAdjust="spacingAndGlyphs" stroke="#000" stroke-width="0.16">4 Feb 12:00</text>
<rect x="1155" y="774" width="1" height="3" fill="#000000"/>
<text x="1154.2" y="786" font-size="10.2" fill="#000" textLength="49.3" lengthAdjust="spacingAndGlyphs" stroke="#000" stroke-width="0.16">5 Feb 20:00</text>
<rect x="1219" y="774" width="1" height="3" fill="#000000"/>
<text x="1218.2" y="786" font-size="10.2" fill="#000" textLength="49.3" lengthAdjust="spacingAndGlyphs" stroke="#000" stroke-width="0.16">7 Feb 04:00</text>
<rect x="1283" y="774" width="1" height="3" fill="#000000"/>
<text x="1282.2" y="786" font-size="10.2" fill="#000" textLength="54.4" lengthAdjust="spacingAndGlyphs" stroke="#000" stroke-width="0.16">10 Feb 08:00</text>
<rect x="1347" y="774" width="1" height="3" fill="#000000"/>
<text x="1346.2" y="786" font-size="10.2" fill="#000" textLength="54.4" lengthAdjust="spacingAndGlyphs" stroke="#000" stroke-width="0.16">11 Feb 16:00</text>
<rect x="1411" y="774" width="1" height="3" fill="#000000"/>
<text x="1410.2" y="786" font-size="10.2" fill="#000" textLength="54.4" lengthAdjust="spacingAndGlyphs" stroke="#000" stroke-width="0.16">13 Feb 00:00</text>
<rect x="1475" y="774" width="1" height="3" fill="#000000"/>
<text x="1474.2" y="786" font-size="10.2" fill="#000" textLength="54.4" lengthAdjust="spacingAndGlyphs" stroke="#000" stroke-width="0.16">14 Feb 08:00</text>
<rect x="1539" y="774" width="1" height="3" fill="#000000"/>
<text x="1538.2" y="786" font-size="10.2" fill="#000" textLength="54.4" lengthAdjust="spacingAndGlyphs" stroke="#000" stroke-width="0.16">17 Feb 12:00</text>
<rect x="1603" y="774" width="1" height="3" fill="#000000"/>
<text x="1602.2" y="786" font-size="10.2" fill="#000" textLength="54.4" lengthAdjust="spacingAndGlyphs" stroke="#000" stroke-width="0.16">18 Feb 20:00</text>
<g fill="none" stroke="#ff1e00" stroke-width="2.45" stroke-linecap="butt" stroke-linejoin="miter" stroke-miterlimit="1.8">
<path d="M1235 350.6 L1222.6 360"/>
<path d="M1232 355.1 H1248.1 C1243 360 1233.5 364.5 1221.7 367.3"/>
<path d="M1230.2 359.1 L1235.6 363"/>
<path d="M1240.2 363.9 L1223.5 373.3"/>
<path d="M1237.4 366.7 H1249.9 C1246 372 1236 378 1222.3 380.3"/>
<path d="M1233.8 371.8 L1237.1 375.8"/>
<path d="M1266.9 350.6 L1268.7 353.9"/>
<path d="M1254.7 359.7 V355.1 H1280.8 V359.7"/>
<path d="M1264.1 359.1 L1253.5 366.4"/>
<path d="M1271.4 359.1 L1282 366.4"/>
<path d="M1256.9 367.9 H1278.7"/>
<path d="M1268.1 367.9 V378.8"/>
<path d="M1253.5 378.8 H1282"/>
<path d="M1284.8 356 H1297.8"/>
<path d="M1290.8 350.6 L1286.6 366.4 H1297.8"/>
<path d="M1292.6 359.4 V380.9"/>
<path d="M1284.5 373.9 L1297.8 371.5"/>
<path d="M1299.3 356 H1313.9"/>
<path d="M1298.1 362.4 H1315.1"/>
<path d="M1305.7 350.6 L1301.1 368.3 H1313.9 L1307.5 376.4"/>
<path d="M1300.5 372.1 L1311.1 380.6"/>
<path d="M1316.7 357.9 H1327"/>
<path d="M1322.1 350.9 V378 Q1322.1 379.6 1320.5 379.4 L1317.3 378.8"/>
<path d="M1316.7 368.8 L1326.7 365.1"/>
<path d="M1346.1 352.7 L1330.3 355.7"/>
<path d="M1330.3 355.7 V366 Q1330.2 374 1326.1 380.6"/>
<path d="M1330.6 363.3 H1347.3"/>
<path d="M1340.3 363.3 V380.9"/>
<path d="M1363.4 350.3 V360.6"/>
<path d="M1363.4 354.8 H1378.5"/>
<path d="M1353.4 361.2 H1374.6 V369.7 H1353.4 Z"/>
<path d="M1353.7 373.9 L1349.1 380"/>
<path d="M1358.8 373.3 L1361.3 379.4"/>
<path d="M1366.1 373 L1369.1 378.8"/>
<path d="M1373.7 373.3 L1377.9 380"/>
</g>
<text transform="translate(1380.7,377.8) scale(0.86,1)" font-size="37.3" letter-spacing="1.4" fill="#ff1e00">3375</text>
</svg>
</body></html>
